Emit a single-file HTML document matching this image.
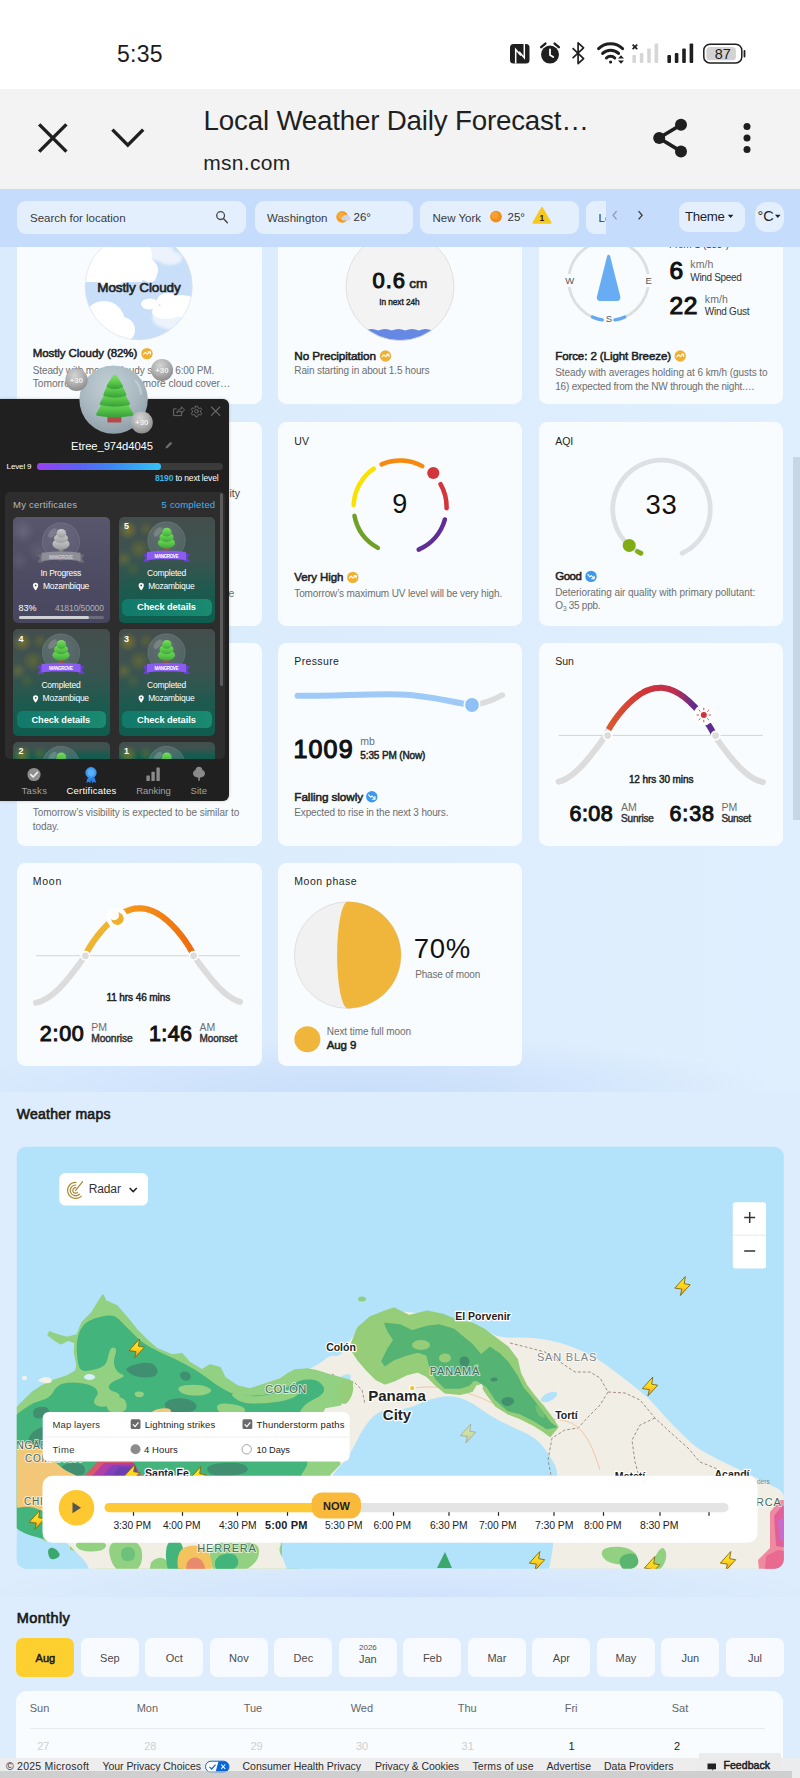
<!DOCTYPE html>
<html lang="en"><head><meta charset="utf-8"><title>Local Weather Daily Forecast</title>
<style>
html,body{margin:0;padding:0}
body{width:800px;height:1778px;position:relative;overflow:hidden;background:#ddedfd;font-family:"Liberation Sans",sans-serif;}
.t{position:absolute;white-space:pre;}
.a{position:absolute;}
.card{position:absolute;background:#f8fcff;border-radius:8.5px;}
svg{position:absolute;overflow:visible}
</style></head><body>
<div class="a" style="left:0;top:246px;width:800px;height:1532px;background:linear-gradient(90deg,#daebfd 0%,#ddedfd 55%,#e0effe 100%)"></div>
<div class="a" style="left:0;top:992px;width:800px;height:100px;overflow:hidden"><div class="a" style="left:0;top:0;width:800px;height:200px;background:radial-gradient(ellipse 52% 28% at 45% 50%,#c9defb 0%,rgba(201,222,251,.6) 45%,rgba(201,222,251,0) 100%)"></div></div>
<div class="a" style="left:0;top:1092px;width:800px;height:686px;background:#ddedfd"></div>
<div class="a" style="left:0;top:1517px;width:800px;height:80px;overflow:hidden"><div class="a" style="left:0;top:0;width:800px;height:160px;background:radial-gradient(ellipse 55% 26% at 50% 50%,rgba(205,224,252,.8) 0%,rgba(205,224,252,.45) 45%,rgba(205,224,252,0) 100%)"></div></div>
<div class="card" style="left:16.8px;top:201px;width:244.8px;height:203px"></div>
<div class="card" style="left:277.5px;top:201px;width:244.8px;height:203px"></div>
<div class="card" style="left:538.5px;top:201px;width:244.8px;height:203px"></div>
<div class="card" style="left:16.8px;top:422.3px;width:244.8px;height:203.7px"></div>
<div class="card" style="left:277.5px;top:422.3px;width:244.8px;height:203.7px"></div>
<div class="card" style="left:538.5px;top:422.3px;width:244.8px;height:203.7px"></div>
<div class="card" style="left:16.8px;top:643px;width:244.8px;height:203px"></div>
<div class="card" style="left:277.5px;top:643px;width:244.8px;height:203px"></div>
<div class="card" style="left:538.5px;top:643px;width:244.8px;height:203px"></div>
<div class="card" style="left:16.8px;top:863px;width:244.8px;height:203.29999999999995px"></div>
<div class="card" style="left:277.5px;top:863px;width:244.8px;height:203.29999999999995px"></div>
<svg style="left:0;top:230px" width="270" height="120" viewBox="0 230 270 120">
<defs><clipPath id="cc1"><circle cx="138.7" cy="286.3" r="53.7"/></clipPath><filter id="bl1"><feGaussianBlur stdDeviation="1.6"/></filter></defs>
<circle cx="138.7" cy="286.3" r="53.7" fill="#c8def9"/>
<g clip-path="url(#cc1)">
<g fill="#f2f7fe" filter="url(#bl1)" opacity=".85"><ellipse cx="158" cy="252" rx="16" ry="9"/><ellipse cx="170" cy="258" rx="12" ry="7"/><ellipse cx="176" cy="318" rx="24" ry="12"/></g>
<g fill="#fff"><circle cx="110" cy="262" r="24"/><circle cx="132" cy="256" r="20"/><circle cx="147" cy="270" r="11"/><rect x="80" y="236" width="62" height="46"/><circle cx="150" cy="276" r="6.5"/>
<circle cx="104" cy="322" r="21"/><circle cx="122" cy="330" r="13"/><circle cx="90" cy="330" r="14"/>
<ellipse cx="168" cy="300" rx="11" ry="7"/><ellipse cx="150" cy="304" rx="9" ry="5.5"/><ellipse cx="182" cy="306" rx="17" ry="11"/><ellipse cx="166" cy="312" rx="14" ry="7"/></g>
</g>
<circle cx="138.7" cy="286.3" r="53.5" fill="none" stroke="#dfe3e8" stroke-width=".7"/>
</svg>
<span class="t" style="left:97.3px;top:280.0px;font-size:13.5px;line-height:16px;font-weight:400;color:#222;-webkit-text-stroke:0.62px #222;letter-spacing:-0.11px;">Mostly Cloudy</span>
<span class="t" style="left:32.8px;top:346.0px;font-size:11.5px;line-height:14px;font-weight:400;color:#1f1f1f;-webkit-text-stroke:0.53px #1f1f1f;letter-spacing:-0.09px;">Mostly Cloudy (82%)</span>
<span class="t" style="left:32.8px;top:365.0px;font-size:10.0px;line-height:12px;font-weight:400;color:#6e6e6e;letter-spacing:-0.13px;">Steady with mostly cloudy sky at 6:00 PM.</span>
<span class="t" style="left:32.8px;top:378.0px;font-size:10.25px;line-height:12px;font-weight:400;color:#6e6e6e;letter-spacing:-0.08px;">Tomorrow expect to see more cloud cover…</span>
<svg style="left:0;top:340px" width="800" height="30" viewBox="0 340 800 30"><circle cx="147" cy="353.6" r="5.7" fill="#f0b133"/><path d="M143.6 354.20000000000005l1.8-1.8 1.8 1.8 2.6-2.2M148.2 351.8h2.2v2.2" fill="none" stroke="#fff" stroke-width="1.1" stroke-linecap="round" stroke-linejoin="round"/><circle cx="385.5" cy="356" r="5.7" fill="#f0b133"/><path d="M382.1 356.6l1.8-1.8 1.8 1.8 2.6-2.2M386.7 354.2h2.2v2.2" fill="none" stroke="#fff" stroke-width="1.1" stroke-linecap="round" stroke-linejoin="round"/><circle cx="680.2" cy="356" r="5.7" fill="#f0b133"/><path d="M676.8000000000001 356.6l1.8-1.8 1.8 1.8 2.6-2.2M681.4000000000001 354.2h2.2v2.2" fill="none" stroke="#fff" stroke-width="1.1" stroke-linecap="round" stroke-linejoin="round"/></svg>
<svg style="left:270px;top:230px" width="260" height="120" viewBox="270 230 260 120">
<defs><clipPath id="cc2"><circle cx="400" cy="286.5" r="54"/></clipPath></defs>
<circle cx="400" cy="286.5" r="54" fill="#f3f3f3"/>
<path clip-path="url(#cc2)" d="M337.750 330.600q6.750 -3.400 13.500 0q6.750 -3.400 13.500 0q6.750 -3.400 13.500 0q6.750 -3.400 13.500 0q6.750 -3.400 13.500 0q6.750 -3.400 13.500 0q6.750 -3.400 13.500 0q6.750 -3.400 13.500 0q6.750 -3.400 13.500 0q6.750 -3.400 13.500 0V345H337z" fill="#6488e4"/>
<circle cx="400" cy="286.5" r="54" fill="none" stroke="#dedede" stroke-width=".9"/>
</svg>
<span class="t" style="left:372.6px;top:268.0px;font-size:22px;line-height:26px;font-weight:400;color:#111;-webkit-text-stroke:1.01px #111;letter-spacing:0.85px;">0.6</span>
<span class="t" style="left:409.2px;top:276.0px;font-size:13.5px;line-height:16px;font-weight:400;color:#222;-webkit-text-stroke:0.62px #222;">cm</span>
<span class="t" style="left:379.3px;top:298.0px;font-size:8.25px;line-height:10px;font-weight:400;color:#222;-webkit-text-stroke:0.38px #222;letter-spacing:-0.06px;">In next 24h</span>
<span class="t" style="left:294.3px;top:349.0px;font-size:11.75px;line-height:14px;font-weight:400;color:#1f1f1f;-webkit-text-stroke:0.54px #1f1f1f;letter-spacing:-0.08px;">No Precipitation</span>
<span class="t" style="left:294.3px;top:365.0px;font-size:10.0px;line-height:12px;font-weight:400;color:#6e6e6e;letter-spacing:-0.12px;">Rain starting in about 1.5 hours</span>
<svg style="left:530px;top:230px" width="270" height="120" viewBox="530 230 270 120">
<circle cx="608.6" cy="280.5" r="39.9" fill="none" stroke="#dcdfe2" stroke-width="2.800"/>
<rect x="562" y="274" width="14" height="13" fill="#f8fcff"/><rect x="641" y="274" width="14" height="13" fill="#f8fcff"/><rect x="600" y="312" width="17" height="13" fill="#f8fcff"/>
<path d="M624.83 316.95A39.9 39.9 0 0 1 614.84 319.91" stroke="#62a9f2" stroke-width="3.2" fill="none" stroke-linecap="round"/><path d="M602.36 319.91A39.9 39.9 0 0 1 592.37 316.95" stroke="#62a9f2" stroke-width="3.2" fill="none" stroke-linecap="round"/>
<path d="M608.600 254.800c.8 0 1.300.6 1.600 1.800l10 39.600c.8 3-.8 4.800-3.600 4.800h-16c-2.800 0-4.400-1.800-3.600-4.800l10-39.600c.3-1.200.8-1.800 1.600-1.800z" fill="#68adf3"/>
</svg>
<span class="t" style="left:565.2px;top:275.0px;font-size:9.5px;line-height:11px;font-weight:400;color:#555;">W</span>
<span class="t" style="left:645.4px;top:275.0px;font-size:9.5px;line-height:11px;font-weight:400;color:#555;">E</span>
<span class="t" style="left:605.8px;top:313.0px;font-size:9.5px;line-height:11px;font-weight:400;color:#555;">S</span>
<span class="t" style="left:669.0px;top:239.0px;font-size:10.0px;line-height:12px;font-weight:400;color:#444;letter-spacing:-0.23px;">From S (183°)</span>
<span class="t" style="left:669.5px;top:256.0px;font-size:24.5px;line-height:29px;font-weight:400;color:#111;-webkit-text-stroke:1.13px #111;">6</span>
<span class="t" style="left:690.3px;top:258.0px;font-size:10.5px;line-height:13px;font-weight:400;color:#6e6e6e;letter-spacing:0.08px;">km/h</span>
<span class="t" style="left:690.3px;top:272.0px;font-size:10.0px;line-height:12px;font-weight:400;color:#333;letter-spacing:-0.34px;">Wind Speed</span>
<span class="t" style="left:669.5px;top:291.0px;font-size:24.5px;line-height:29px;font-weight:400;color:#111;-webkit-text-stroke:1.13px #111;letter-spacing:0.73px;">22</span>
<span class="t" style="left:704.8px;top:293.0px;font-size:10.5px;line-height:13px;font-weight:400;color:#6e6e6e;letter-spacing:0.08px;">km/h</span>
<span class="t" style="left:704.8px;top:306.0px;font-size:10.0px;line-height:12px;font-weight:400;color:#333;letter-spacing:-0.25px;">Wind Gust</span>
<span class="t" style="left:555.2px;top:349.0px;font-size:11.5px;line-height:14px;font-weight:400;color:#1f1f1f;-webkit-text-stroke:0.53px #1f1f1f;letter-spacing:-0.08px;">Force: 2 (Light Breeze)</span>
<span class="t" style="left:555.2px;top:367.0px;font-size:10.0px;line-height:12px;font-weight:400;color:#6e6e6e;letter-spacing:-0.07px;">Steady with averages holding at 6 km/h (gusts to</span>
<span class="t" style="left:555.2px;top:381.0px;font-size:10.0px;line-height:12px;font-weight:400;color:#6e6e6e;letter-spacing:-0.18px;">16) expected from the NW through the night.…</span>
<span class="t" style="left:229.4px;top:487.0px;font-size:10.5px;line-height:13px;font-weight:400;color:#444;">ity</span>
<span class="t" style="left:228.6px;top:587.0px;font-size:10.5px;line-height:13px;font-weight:400;color:#6e6e6e;">e</span>
<span class="t" style="left:32.8px;top:807.0px;font-size:10.0px;line-height:12px;font-weight:400;color:#6e6e6e;letter-spacing:-0.06px;">Tomorrow’s visibility is expected to be similar to</span>
<span class="t" style="left:32.8px;top:821.0px;font-size:10.0px;line-height:12px;font-weight:400;color:#6e6e6e;letter-spacing:-0.08px;">today.</span>
<svg style="left:340px;top:450px" width="120" height="110" viewBox="340 450 120 110"><path d="M377.91 547.86A46.5 46.5 0 0 1 354.45 515.87" stroke="#6fa128" stroke-width="4.5" fill="none" stroke-linecap="round"/><path d="M353.64 504.97A46.5 46.5 0 0 1 373.76 468.68" stroke="#fbe100" stroke-width="4.5" fill="none" stroke-linecap="round"/><path d="M381.56 464.36A46.5 46.5 0 0 1 422.29 466.14" stroke="#f7890f" stroke-width="4.5" fill="none" stroke-linecap="round"/><path d="M440.57 484.10A46.5 46.5 0 0 1 446.58 508.22" stroke="#d2363b" stroke-width="4.5" fill="none" stroke-linecap="round"/><path d="M444.91 519.43A46.5 46.5 0 0 1 418.64 549.64" stroke="#5f2d96" stroke-width="4.5" fill="none" stroke-linecap="round"/><circle cx="433.3" cy="473" r="6.1" fill="#d2363b"/></svg>
<span class="t" style="left:294.3px;top:435.0px;font-size:10.5px;line-height:13px;font-weight:400;color:#1f1f1f;">UV</span>
<span class="t" style="left:392.2px;top:488.0px;font-size:27px;line-height:32px;font-weight:400;color:#111;">9</span>
<span class="t" style="left:294.3px;top:570.0px;font-size:11.5px;line-height:14px;font-weight:400;color:#1f1f1f;-webkit-text-stroke:0.53px #1f1f1f;letter-spacing:-0.10px;">Very High</span>
<span class="t" style="left:294.3px;top:588.0px;font-size:10.0px;line-height:12px;font-weight:400;color:#6e6e6e;letter-spacing:-0.13px;">Tomorrow’s maximum UV level will be very high.</span>
<svg style="left:600px;top:450px" width="130" height="120" viewBox="600 450 130 120">
<path d="M640.88 553.23A48.8 48.8 0 1 1 682.12 553.23" stroke="#dde1e5" stroke-width="4.8" fill="none" stroke-linecap="round"/>
<path d="M640.88 553.23A48.8 48.8 0 0 1 637.47 551.47" stroke="#80ad14" stroke-width="4.8" fill="none" stroke-linecap="round"/>
<circle cx="629.2" cy="545.4" r="6.5" fill="#80ad14"/></svg>
<span class="t" style="left:555.2px;top:435.0px;font-size:10.5px;line-height:13px;font-weight:400;color:#1f1f1f;">AQI</span>
<span class="t" style="left:645.5px;top:488.0px;font-size:27.5px;line-height:33px;font-weight:400;color:#111;letter-spacing:0.81px;">33</span>
<span class="t" style="left:555.2px;top:569.0px;font-size:11.5px;line-height:14px;font-weight:400;color:#1f1f1f;-webkit-text-stroke:0.53px #1f1f1f;letter-spacing:-0.50px;">Good</span>
<span class="t" style="left:555.2px;top:587.0px;font-size:10.0px;line-height:12px;font-weight:400;color:#6e6e6e;letter-spacing:-0.06px;">Deteriorating air quality with primary pollutant:</span>
<span class="t" style="left:555.2px;top:600.0px;font-size:10.0px;line-height:12px;font-weight:400;color:#6e6e6e;letter-spacing:-0.28px;">O<span style="font-size:7px;position:relative;top:1.5px">3</span> 35 ppb.</span>
<svg style="left:0;top:560px" width="800" height="30" viewBox="0 560 800 30"><circle cx="352.8" cy="577.4" r="5.7" fill="#f0b133"/><path d="M349.40000000000003 578.0l1.8-1.8 1.8 1.8 2.6-2.2M354.0 575.6h2.2v2.2" fill="none" stroke="#fff" stroke-width="1.1" stroke-linecap="round" stroke-linejoin="round"/><circle cx="591" cy="576.4" r="5.7" fill="#3b9aee"/><path d="M587.8 574.4l2 2.4 1.6-1.2 2.6 3M591.6 578.8h2.6v-2.6" fill="none" stroke="#fff" stroke-width="1.1" stroke-linecap="round" stroke-linejoin="round"/></svg>
<svg style="left:280px;top:680px" width="240" height="40" viewBox="280 680 240 40">
<path d="M472 705C485 704 495 699 502.4 695" stroke="#dcdcdc" stroke-width="5.4" fill="none" stroke-linecap="round"/>
<path d="M297.6 695.8C340 695.8 370 693.6 400 694.4S450 702 472 705" stroke="#9fcaf8" stroke-width="6" fill="none" stroke-linecap="round"/>
<circle cx="472" cy="705" r="7.7" fill="#90c1f6" stroke="#f8fcff" stroke-width="1.6"/></svg>
<span class="t" style="left:294.3px;top:655.0px;font-size:10.5px;line-height:13px;font-weight:400;color:#1f1f1f;letter-spacing:0.37px;">Pressure</span>
<span class="t" style="left:293.4px;top:734.0px;font-size:25px;line-height:30px;font-weight:400;color:#111;-webkit-text-stroke:1.15px #111;letter-spacing:1.19px;">1009</span>
<span class="t" style="left:360.3px;top:735.0px;font-size:10.5px;line-height:13px;font-weight:400;color:#6e6e6e;">mb</span>
<span class="t" style="left:360.3px;top:750.0px;font-size:10.0px;line-height:12px;font-weight:400;color:#222;-webkit-text-stroke:0.46px #222;letter-spacing:-0.13px;">5:35 PM (Now)</span>
<span class="t" style="left:294.3px;top:790.0px;font-size:11.75px;line-height:14px;font-weight:400;color:#1f1f1f;-webkit-text-stroke:0.54px #1f1f1f;letter-spacing:-0.08px;">Falling slowly</span>
<span class="t" style="left:294.3px;top:807.0px;font-size:10.0px;line-height:12px;font-weight:400;color:#6e6e6e;letter-spacing:-0.15px;">Expected to rise in the next 3 hours.</span>
<svg style="left:0;top:780px" width="800" height="30" viewBox="0 780 800 30"><circle cx="371.8" cy="796.8" r="5.7" fill="#3b9aee"/><path d="M368.6 794.8l2 2.4 1.6-1.2 2.6 3M372.40000000000003 799.1999999999999h2.6v-2.6" fill="none" stroke="#fff" stroke-width="1.1" stroke-linecap="round" stroke-linejoin="round"/></svg>
<svg style="left:540px;top:680px" width="240" height="110" viewBox="540 680 240 110">
<defs><linearGradient id="sg" gradientUnits="userSpaceOnUse" x1="607" y1="0" x2="716" y2="0"><stop offset="0" stop-color="#dc5a2e"/><stop offset=".35" stop-color="#d13438"/><stop offset=".62" stop-color="#c02f50"/><stop offset=".8" stop-color="#5c2d91"/><stop offset="1" stop-color="#5c2d91"/></linearGradient></defs>
<path d="M558.7 735.4H762.9" stroke="#d4d4d4" stroke-width="1"/>
<path d="M558.7 781.7L562.1 780.6L565.5 779.0L568.9 777.0L572.3 774.6L575.7 771.8L579.1 768.6L582.5 765.1L585.9 761.3L589.3 757.3L592.7 753.0L596.1 748.6L599.5 744.1L602.9 739.4L606.3 734.1L609.8 727.5L613.2 722.2L616.6 717.4L620.0 713.1L623.4 709.1L626.8 705.4L630.2 702.1L633.6 699.0L637.0 696.4L640.4 694.1L643.8 692.1L647.2 690.5L650.6 689.3L654.0 688.4L657.4 687.9L660.8 687.8L664.2 688.1L667.6 688.7L671.0 689.8L674.4 691.2L677.8 693.0L681.2 695.1L684.6 697.6L688.0 700.4L691.4 703.6L694.8 707.1L698.2 710.9L701.6 715.1L705.0 719.6L708.4 724.6L711.9 730.3L715.3 736.9L718.7 741.6L722.1 746.2L725.5 750.7L728.9 755.1L732.3 759.2L735.7 763.1L739.1 766.8L742.5 770.1L745.9 773.1L749.3 775.7L752.7 778.0L756.1 779.8L759.5 781.2L762.9 782.1" stroke="#dcdcdc" stroke-width="6" fill="none" stroke-linecap="round"/>
<path d="M608.6 729.5L610.4 726.5L612.1 723.7L613.9 721.1L615.7 718.6L617.4 716.3L619.2 714.0L621.0 711.8L622.7 709.8L624.5 707.8L626.3 705.9L628.0 704.1L629.8 702.4L631.6 700.8L633.3 699.2L635.1 697.8L636.9 696.5L638.6 695.2L640.4 694.0L642.2 693.0L643.9 692.0L645.7 691.1L647.5 690.4L649.2 689.7L651.0 689.1L652.8 688.7L654.5 688.3L656.3 688.0L658.1 687.9L659.8 687.8L661.6 687.8L663.4 688.0L665.1 688.2L666.9 688.6L668.7 689.0L670.4 689.6L672.2 690.2L674.0 691.0L675.7 691.8L677.5 692.8L679.3 693.8L681.0 695.0L682.8 696.2L684.6 697.5L686.3 699.0L688.1 700.5L689.9 702.1L691.6 703.8L693.4 705.6L695.2 707.4L696.9 709.4L698.7 711.5L700.5 713.6L702.2 715.8L704.0 718.2L705.8 720.6L707.5 723.2L709.3 726.0L711.1 728.9L712.8 732.2L714.6 736.0" stroke="url(#sg)" stroke-width="6" fill="none"/>
<circle cx="607.6" cy="735.6" r="4.2" fill="#dcdcdc" stroke="#fff" stroke-width="1.6"/><circle cx="715.6" cy="735.6" r="4.2" fill="#dcdcdc" stroke="#fff" stroke-width="1.6"/>
<circle cx="703.8" cy="715" r="10.4" fill="#fff"/><circle cx="703.8" cy="715" r="3" fill="#d13438"/>
<g stroke="#d13438" stroke-width=".9" stroke-linecap="round"><path d="M709.0 715.0L710.6 715.0"/><path d="M707.5 718.7L708.6 719.8"/><path d="M703.8 720.2L703.8 721.8"/><path d="M700.1 718.7L699.0 719.8"/><path d="M698.6 715.0L697.0 715.0"/><path d="M700.1 711.3L699.0 710.2"/><path d="M703.8 709.8L703.8 708.2"/><path d="M707.5 711.3L708.6 710.2"/></g>
</svg>
<span class="t" style="left:555.2px;top:655.0px;font-size:10.5px;line-height:13px;font-weight:400;color:#1f1f1f;">Sun</span>
<span class="t" style="left:628.9px;top:774.0px;font-size:10.0px;line-height:12px;font-weight:400;color:#222;-webkit-text-stroke:0.46px #222;letter-spacing:-0.08px;">12 hrs 30 mins</span>
<span class="t" style="left:569.5px;top:801.0px;font-size:21.5px;line-height:26px;font-weight:400;color:#111;-webkit-text-stroke:0.99px #111;letter-spacing:0.45px;">6:08</span>
<span class="t" style="left:621.0px;top:801.0px;font-size:10.5px;line-height:13px;font-weight:400;color:#6e6e6e;">AM</span>
<span class="t" style="left:621.0px;top:813.0px;font-size:10.0px;line-height:12px;font-weight:400;color:#333;-webkit-text-stroke:0.46px #333;letter-spacing:-0.17px;">Sunrise</span>
<span class="t" style="left:669.4px;top:801.0px;font-size:21.5px;line-height:26px;font-weight:400;color:#111;-webkit-text-stroke:0.99px #111;letter-spacing:0.91px;">6:38</span>
<span class="t" style="left:721.4px;top:801.0px;font-size:10.5px;line-height:13px;font-weight:400;color:#6e6e6e;">PM</span>
<span class="t" style="left:721.4px;top:813.0px;font-size:10.0px;line-height:12px;font-weight:400;color:#333;-webkit-text-stroke:0.46px #333;letter-spacing:-0.29px;">Sunset</span>
<svg style="left:20px;top:900px" width="240" height="110" viewBox="20 900 240 110">
<defs><linearGradient id="mg" gradientUnits="userSpaceOnUse" x1="116" y1="0" x2="194" y2="0"><stop offset="0" stop-color="#f6a11c"/><stop offset="1" stop-color="#f0690c"/></linearGradient></defs>
<path d="M36 955.7H240" stroke="#d4d4d4" stroke-width="1"/>
<path d="M36.0 1002.7L39.4 1001.8L42.8 1000.5L46.2 998.7L49.6 996.6L53.0 994.0L56.4 991.1L59.8 987.8L63.2 984.2L66.6 980.3L70.0 976.2L73.4 971.9L76.8 967.4L80.2 962.8L83.6 958.2L87.0 951.9L90.4 946.0L93.8 940.9L97.2 936.3L100.6 932.1L104.0 928.2L107.4 924.7L110.8 921.5L114.2 918.6L117.6 916.0L121.0 913.8L124.4 912.0L127.8 910.5L131.2 909.4L134.6 908.7L138.0 908.3L141.4 908.4L144.8 908.8L148.2 909.5L151.6 910.7L155.0 912.2L158.4 914.1L161.8 916.3L165.2 918.9L168.6 921.8L172.0 925.1L175.4 928.7L178.8 932.6L182.2 936.8L185.6 941.5L189.0 946.6L192.4 952.7L195.8 958.7L199.2 963.4L202.6 967.9L206.0 972.4L209.4 976.7L212.8 980.8L216.2 984.6L219.6 988.2L223.0 991.4L226.4 994.3L229.8 996.8L233.2 999.0L236.6 1000.7L240.0 1001.9" stroke="#dcdcdc" stroke-width="6" fill="none" stroke-linecap="round"/>
<path d="M86.4 953.1L86.9 952.1L87.4 951.1L87.9 950.1L88.4 949.2L89.0 948.4L89.5 947.5L90.0 946.7L90.5 945.9L91.0 945.1L91.5 944.3L92.0 943.5L92.5 942.8L93.0 942.0L93.5 941.3L94.0 940.6L94.6 939.9L95.1 939.2L95.6 938.5L96.1 937.8L96.6 937.1L97.1 936.4L97.6 935.8L98.1 935.1L98.6 934.5L99.2 933.9L99.7 933.2L100.2 932.6L100.7 932.0L101.2 931.4L101.7 930.8L102.2 930.2L102.7 929.6L103.2 929.1L103.7 928.5L104.2 928.0L104.8 927.4L105.3 926.9L105.8 926.3L106.3 925.8L106.8 925.3L107.3 924.8L107.8 924.3L108.3 923.8L108.8 923.3L109.3 922.8L109.9 922.3L110.4 921.9L110.9 921.4L111.4 920.9L111.9 920.5L112.4 920.1L112.9 919.6L113.4 919.2L113.9 918.8L114.5 918.4L115.0 918.0L115.5 917.6L116.0 917.2L116.5 916.8L117.0 916.5" stroke="#f0b52e" stroke-width="6" fill="none"/>
<path d="M116.0 917.2L117.3 916.3L118.6 915.4L119.8 914.6L121.1 913.8L122.4 913.1L123.7 912.4L124.9 911.8L126.2 911.2L127.5 910.7L128.8 910.2L130.0 909.8L131.3 909.4L132.6 909.1L133.9 908.8L135.2 908.6L136.4 908.5L137.7 908.4L139.0 908.3L140.3 908.3L141.5 908.4L142.8 908.5L144.1 908.6L145.4 908.9L146.6 909.1L147.9 909.5L149.2 909.8L150.5 910.3L151.7 910.7L153.0 911.3L154.3 911.9L155.6 912.5L156.9 913.2L158.1 913.9L159.4 914.7L160.7 915.5L162.0 916.4L163.2 917.4L164.5 918.4L165.8 919.4L167.1 920.5L168.3 921.6L169.6 922.8L170.9 924.0L172.2 925.3L173.4 926.6L174.7 927.9L176.0 929.3L177.3 930.8L178.6 932.3L179.8 933.8L181.1 935.4L182.4 937.1L183.7 938.8L184.9 940.6L186.2 942.4L187.5 944.3L188.8 946.3L190.0 948.4L191.3 950.6L192.6 953.1" stroke="url(#mg)" stroke-width="6" fill="none"/>
<circle cx="85.4" cy="955.8" r="4.2" fill="#dcdcdc" stroke="#fff" stroke-width="1.6"/><circle cx="193.6" cy="955.8" r="4.2" fill="#dcdcdc" stroke="#fff" stroke-width="1.6"/>
<defs><mask id="mm"><rect x="100" y="900" width="40" height="40" fill="#fff"/><circle cx="114" cy="915.1" r="5.100" fill="#000"/></mask></defs>
<circle cx="117" cy="918" r="10.500" fill="#fff"/><circle cx="117.400" cy="918.600" r="6.300" fill="#f0b028" mask="url(#mm)"/>
</svg>
<span class="t" style="left:32.7px;top:875.0px;font-size:10.5px;line-height:13px;font-weight:400;color:#1f1f1f;letter-spacing:0.78px;">Moon</span>
<span class="t" style="left:106.4px;top:992.0px;font-size:10.0px;line-height:12px;font-weight:400;color:#222;-webkit-text-stroke:0.46px #222;letter-spacing:-0.08px;">11 hrs 46 mins</span>
<span class="t" style="left:39.8px;top:1021.0px;font-size:21.5px;line-height:26px;font-weight:400;color:#111;-webkit-text-stroke:0.99px #111;letter-spacing:0.71px;">2:00</span>
<span class="t" style="left:91.2px;top:1021.0px;font-size:10.5px;line-height:13px;font-weight:400;color:#6e6e6e;">PM</span>
<span class="t" style="left:91.2px;top:1033.0px;font-size:10.25px;line-height:12px;font-weight:400;color:#333;-webkit-text-stroke:0.47px #333;letter-spacing:-0.09px;">Moonrise</span>
<span class="t" style="left:149.0px;top:1021.0px;font-size:21.5px;line-height:26px;font-weight:400;color:#111;-webkit-text-stroke:0.99px #111;letter-spacing:0.38px;">1:46</span>
<span class="t" style="left:199.5px;top:1021.0px;font-size:10.5px;line-height:13px;font-weight:400;color:#6e6e6e;">AM</span>
<span class="t" style="left:199.5px;top:1033.0px;font-size:10.0px;line-height:12px;font-weight:400;color:#333;-webkit-text-stroke:0.46px #333;letter-spacing:-0.10px;">Moonset</span>
<svg style="left:285px;top:895px" width="125" height="165" viewBox="285 895 125 165">
<circle cx="347.7" cy="955.1" r="53.3" fill="#f1f1f1" stroke="#dddddd" stroke-width=".9"/>
<path d="M347.700 901.800A53.300 53.300 0 0 1 347.700 1008.400A10.600 53.300 0 0 1 347.700 901.800z" fill="#f0b63c"/>
<circle cx="307.4" cy="1039.3" r="13" fill="#f0b63c"/></svg>
<span class="t" style="left:294.3px;top:875.0px;font-size:10.5px;line-height:13px;font-weight:400;color:#1f1f1f;letter-spacing:0.51px;">Moon phase</span>
<span class="t" style="left:413.8px;top:932.0px;font-size:27.5px;line-height:33px;font-weight:400;color:#111;letter-spacing:0.73px;">70%</span>
<span class="t" style="left:415.2px;top:969.0px;font-size:10.0px;line-height:12px;font-weight:400;color:#6e6e6e;letter-spacing:-0.18px;">Phase of moon</span>
<span class="t" style="left:326.8px;top:1026.0px;font-size:10.0px;line-height:12px;font-weight:400;color:#6e6e6e;letter-spacing:-0.07px;">Next time full moon</span>
<span class="t" style="left:326.8px;top:1038.0px;font-size:11.5px;line-height:14px;font-weight:400;color:#1f1f1f;-webkit-text-stroke:0.53px #1f1f1f;letter-spacing:-0.12px;">Aug 9</span>
<div class="a" style="left:792.5px;top:457px;width:7.5px;height:363px;background:#c7d5e5"></div>
<div class="a" style="left:0;top:188.5px;width:800px;height:58px;background:#c6dcfc"></div>
<div class="a" style="left:17px;top:200.5px;width:229px;height:33px;border-radius:9px;background:#e4effe"></div>
<div class="a" style="left:254.5px;top:200.5px;width:158.5px;height:33px;border-radius:9px;background:#e4effe"></div>
<div class="a" style="left:420px;top:200.5px;width:158.5px;height:33px;border-radius:9px;background:#e4effe"></div>
<div class="a" style="left:585.5px;top:200.5px;width:20.5px;height:33px;border-radius:9px 0 0 9px;background:#e4effe"></div>
<div class="a" style="left:678.5px;top:202px;width:66px;height:29.5px;border-radius:9px;background:#e4effe"></div>
<div class="a" style="left:754.5px;top:202px;width:29.5px;height:29.5px;border-radius:12px;background:#e4effe"></div>
<span class="t" style="left:30.0px;top:211.0px;font-size:11.5px;line-height:14px;font-weight:400;color:#3a3a3a;letter-spacing:-0.02px;">Search for location</span>
<span class="t" style="left:267.0px;top:211.0px;font-size:11.5px;line-height:14px;font-weight:400;color:#3a3a3a;letter-spacing:0.02px;">Washington</span>
<span class="t" style="left:353.5px;top:210.0px;font-size:11.5px;line-height:14px;font-weight:400;color:#333;">26°</span>
<span class="t" style="left:432.5px;top:211.0px;font-size:11.5px;line-height:14px;font-weight:400;color:#3a3a3a;letter-spacing:-0.01px;">New York</span>
<span class="t" style="left:507.5px;top:210.0px;font-size:11.5px;line-height:14px;font-weight:400;color:#333;">25°</span>
<div class="a" style="left:585.5px;top:200.5px;width:20.5px;height:33px;overflow:hidden"><span class="t" style="left:13px;top:10px;font-size:11.5px;line-height:14px;color:#3a3a3a">London</span></div>
<span class="t" style="left:685.0px;top:209.0px;font-size:13.25px;line-height:16px;font-weight:400;color:#1f1f1f;letter-spacing:-0.35px;">Theme</span>
<span class="t" style="left:757.5px;top:208.0px;font-size:14.5px;line-height:17px;font-weight:400;color:#1f1f1f;">°C</span>
<svg style="left:0;top:189px" width="800" height="58" viewBox="0 189 800 58">
<circle cx="220.6" cy="215.6" r="3.9" fill="none" stroke="#444" stroke-width="1.3"/><path d="M223.4 218.6l4 4.2" stroke="#444" stroke-width="1.4" stroke-linecap="round"/>
<circle cx="342.2" cy="216.8" r="5.9" fill="#f39a1c"/><circle cx="341.2" cy="215.600" r="3.6" fill="#f8b040" opacity=".7"/><path d="M343.2 220.4a1.900 1.900 0 0 1 .2-3.800 2.600 2.600 0 0 1 4.800-.3 2 2 0 0 1 .4 4.100z" fill="#c9d6ec"/>
<circle cx="496" cy="216.6" r="5.9" fill="#f28c1c"/><circle cx="495" cy="215.400" r="3.6" fill="#f7a83a" opacity=".7"/>
<path d="M542 207.6l8.8 15.4h-17.6z" fill="#f7c81e" stroke="#f7c81e" stroke-width="1.6" stroke-linejoin="round"/>
<path d="M616.600 211.200l-3.500 4.100 3.500 4.100" fill="none" stroke="#8d97a8" stroke-width="1.200"/>
<path d="M638.600 211.200l3.500 4.100-3.500 4.100" fill="none" stroke="#3a3a3a" stroke-width="1.300"/>
<path d="M727.8 214.8h5.6l-2.8 3.2z" fill="#1f1f1f"/><path d="M775 214.8h5.6l-2.8 3.2z" fill="#1f1f1f"/>
</svg>
<span class="t" style="left:539.6px;top:213.0px;font-size:8.5px;line-height:10px;font-weight:700;color:#222;">1</span>
<div class="a" style="left:0;top:89px;width:800px;height:100px;background:#f3f3f3"></div>
<svg style="left:0;top:89px" width="800" height="100" viewBox="0 89 800 100">
<path d="M39.2 124.4l27.2 27.2M66.4 124.4l-27.2 27.2" stroke="#1f1f1f" stroke-width="3.4" fill="none"/>
<path d="M112.4 129.6l15.4 15.6 15.4-15.6" stroke="#1f1f1f" stroke-width="3.4" fill="none"/>
<path d="M681 124.8L659 138l22 13.4" stroke="#1f1f1f" stroke-width="3.6" fill="none"/>
<circle cx="681" cy="124.8" r="6" fill="#1f1f1f"/><circle cx="659.2" cy="138" r="6" fill="#1f1f1f"/><circle cx="681" cy="151.4" r="6" fill="#1f1f1f"/>
<circle cx="747" cy="126.6" r="3.5" fill="#1f1f1f"/><circle cx="747" cy="138" r="3.5" fill="#1f1f1f"/><circle cx="747" cy="149.4" r="3.5" fill="#1f1f1f"/>
</svg>
<span class="t" style="left:203.6px;top:104.0px;font-size:27.75px;line-height:33px;font-weight:400;color:#1f1f1f;letter-spacing:-0.21px;">Local Weather Daily Forecast…</span>
<span class="t" style="left:203.2px;top:150.0px;font-size:21px;line-height:25px;font-weight:400;color:#1f1f1f;letter-spacing:0.30px;">msn.com</span>
<div class="a" style="left:0;top:0;width:800px;height:89px;background:#fff"></div>
<span class="t" style="left:117.0px;top:40.0px;font-size:23px;line-height:28px;font-weight:400;color:#1c1c1c;letter-spacing:0.24px;">5:35</span>
<svg style="left:500px;top:30px" width="260" height="50" viewBox="500 30 260 50">
<rect x="510" y="44" width="19.5" height="19.5" rx="3.5" fill="#1f1f1f"/>
<path d="M515.7 63.5V49.6l5.2 6M524.3 44V57.8l-5.2-6" fill="none" stroke="#fff" stroke-width="1.5" stroke-linejoin="miter"/>
<circle cx="550" cy="54.6" r="9" fill="#1f1f1f"/>
<path d="M541.2 47.2l4.2-3.6M558.8 47.2l-4.2-3.6" stroke="#1f1f1f" stroke-width="2.4" stroke-linecap="round"/>
<path d="M550 49.5v5.6l3.2 2" stroke="#fff" stroke-width="1.8" fill="none" stroke-linecap="round"/>
<path d="M572.6 48.2l11 10.4-5.5 5v-20.8l5.5 5-11 10.4" fill="none" stroke="#1f1f1f" stroke-width="1.7" stroke-linejoin="round"/>
<path d="M598.6 48.6a17.5 17.5 0 0 1 24 0" fill="none" stroke="#1f1f1f" stroke-width="3" stroke-linecap="round"/>
<path d="M602.6 53.4a11.6 11.6 0 0 1 16 0" fill="none" stroke="#1f1f1f" stroke-width="3" stroke-linecap="round"/>
<path d="M606.4 58a6 6 0 0 1 8.4 0" fill="none" stroke="#1f1f1f" stroke-width="3" stroke-linecap="round"/>
<circle cx="610.6" cy="62" r="1.6" fill="#1f1f1f"/>
<path d="M618 58.6h6l-3-3.4zM618 60.4h6l-3 3.4z" fill="#1f1f1f"/>
<path d="M632.6 44.6l4.6 4.6M637.2 44.6l-4.6 4.6" stroke="#1f1f1f" stroke-width="1.7"/>
<g fill="#d6d6d6"><rect x="632.4" y="55" width="3.6" height="8" rx="1"/><rect x="639.8" y="53" width="3.6" height="10" rx="1"/><rect x="647.2" y="48.5" width="3.6" height="14.5" rx="1"/><rect x="654.6" y="43.5" width="3.6" height="19.5" rx="1"/></g>
<g fill="#1f1f1f"><rect x="667.4" y="55" width="3.6" height="8" rx="1"/><rect x="674.8" y="53" width="3.6" height="10" rx="1"/><rect x="682.2" y="48.5" width="3.6" height="14.5" rx="1"/><rect x="689.6" y="43.5" width="3.6" height="19.5" rx="1"/></g>
<rect x="703.8" y="44.3" width="38" height="18.6" rx="6" fill="#fff" stroke="#1f1f1f" stroke-width="1.5"/>
<rect x="706.4" y="46.9" width="29.5" height="13.4" rx="3.5" fill="#d2d2d2"/>
<rect x="743.6" y="50" width="1.8" height="7.4" rx="0.9" fill="#1f1f1f"/>
</svg>
<span class="t" style="left:714.7px;top:46.0px;font-size:14.5px;line-height:17px;font-weight:400;color:#1c1c1c;">87</span>
<div class="a" style="left:0;top:398.5px;width:228.5px;height:402.5px;background:#202020;border-radius:0 6px 6px 0;box-shadow:0 0 3px rgba(0,0,0,.25)"></div>
<div class="a" style="left:4.5px;top:492px;width:220px;height:267px;background:#2d2d2d;border-radius:5px"></div>
<div class="a" style="left:220.4px;top:493px;width:3px;height:193px;background:#5c5c5c;border-radius:1.5px"></div>
<div class="a" style="left:13px;top:516.6px;width:96.8px;height:106.4px;background:radial-gradient(circle 12px at 10px 14px,rgba(120,119,140,.5),rgba(120,119,140,0)),radial-gradient(circle 12px at 26px 34px,rgba(112,111,132,.4),rgba(112,111,132,0)),radial-gradient(circle 10px at 6px 44px,rgba(112,111,132,.35),rgba(112,111,132,0)),linear-gradient(180deg,#57566c 0%,#4d4c63 55%,#47465f 100%);border-radius:5px;overflow:hidden"></div>
<div class="a" style="left:118.5px;top:516.6px;width:96.8px;height:106.4px;background:radial-gradient(circle 10px at 9px 13px,rgba(128,122,44,.8),rgba(128,122,44,0)),radial-gradient(circle 11px at 20px 32px,rgba(112,114,46,.62),rgba(112,114,46,0)),radial-gradient(circle 9px at 5px 42px,rgba(120,118,50,.55),rgba(120,118,50,0)),radial-gradient(circle 8px at 27px 12px,rgba(108,110,48,.5),rgba(108,110,48,0)),radial-gradient(circle 8px at 14px 52px,rgba(100,108,52,.4),rgba(100,108,52,0)),linear-gradient(180deg,#434e4c 0%,#3d5350 38%,#1d5a4e 70%,#0d5d4f 100%);border-radius:5px;overflow:hidden"></div>
<div class="a" style="left:13px;top:629px;width:96.8px;height:107px;background:radial-gradient(circle 10px at 9px 13px,rgba(128,122,44,.8),rgba(128,122,44,0)),radial-gradient(circle 11px at 20px 32px,rgba(112,114,46,.62),rgba(112,114,46,0)),radial-gradient(circle 9px at 5px 42px,rgba(120,118,50,.55),rgba(120,118,50,0)),radial-gradient(circle 8px at 27px 12px,rgba(108,110,48,.5),rgba(108,110,48,0)),radial-gradient(circle 8px at 14px 52px,rgba(100,108,52,.4),rgba(100,108,52,0)),linear-gradient(180deg,#434e4c 0%,#3d5350 38%,#1d5a4e 70%,#0d5d4f 100%);border-radius:5px;overflow:hidden"></div>
<div class="a" style="left:118.5px;top:629px;width:96.8px;height:107px;background:radial-gradient(circle 10px at 9px 13px,rgba(128,122,44,.8),rgba(128,122,44,0)),radial-gradient(circle 11px at 20px 32px,rgba(112,114,46,.62),rgba(112,114,46,0)),radial-gradient(circle 9px at 5px 42px,rgba(120,118,50,.55),rgba(120,118,50,0)),radial-gradient(circle 8px at 27px 12px,rgba(108,110,48,.5),rgba(108,110,48,0)),radial-gradient(circle 8px at 14px 52px,rgba(100,108,52,.4),rgba(100,108,52,0)),linear-gradient(180deg,#434e4c 0%,#3d5350 38%,#1d5a4e 70%,#0d5d4f 100%);border-radius:5px;overflow:hidden"></div>
<div class="a" style="left:13px;top:741.5px;width:96.8px;height:17.2px;background:radial-gradient(circle 10px at 9px 13px,rgba(128,122,44,.8),rgba(128,122,44,0)),radial-gradient(circle 11px at 20px 32px,rgba(112,114,46,.62),rgba(112,114,46,0)),radial-gradient(circle 9px at 5px 42px,rgba(120,118,50,.55),rgba(120,118,50,0)),radial-gradient(circle 8px at 27px 12px,rgba(108,110,48,.5),rgba(108,110,48,0)),radial-gradient(circle 8px at 14px 52px,rgba(100,108,52,.4),rgba(100,108,52,0)),linear-gradient(180deg,#434e4c 0%,#3d5350 38%,#1d5a4e 70%,#0d5d4f 100%);border-radius:5px 5px 0 0;overflow:hidden"></div>
<div class="a" style="left:118.5px;top:741.5px;width:96.8px;height:17.2px;background:radial-gradient(circle 10px at 9px 13px,rgba(128,122,44,.8),rgba(128,122,44,0)),radial-gradient(circle 11px at 20px 32px,rgba(112,114,46,.62),rgba(112,114,46,0)),radial-gradient(circle 9px at 5px 42px,rgba(120,118,50,.55),rgba(120,118,50,0)),radial-gradient(circle 8px at 27px 12px,rgba(108,110,48,.5),rgba(108,110,48,0)),radial-gradient(circle 8px at 14px 52px,rgba(100,108,52,.4),rgba(100,108,52,0)),linear-gradient(180deg,#434e4c 0%,#3d5350 38%,#1d5a4e 70%,#0d5d4f 100%);border-radius:5px 5px 0 0;overflow:hidden"></div>
<div class="a" style="left:37px;top:462.8px;width:185.500px;height:7.2px;border-radius:3.600px;background:#3b3b3b"></div>
<div class="a" style="left:37px;top:462.8px;width:123.5px;height:7.2px;border-radius:3.6px;background:linear-gradient(90deg,#9a3ff2 0%,#5a62f5 35%,#3a8af7 62%,#33c3f4 100%)"></div>
<div class="a" style="left:18.6px;top:616px;width:85.6px;height:3.4px;border-radius:1.700px;background:#6c6b7c"></div>
<div class="a" style="left:18.6px;top:616px;width:70px;height:3.4px;border-radius:1.7px;background:#cfcfd6"></div>
<div class="a" style="left:122px;top:599px;width:89.5px;height:17px;border-radius:5.500px;background:linear-gradient(90deg,#12796b,#1a8a70)"></div>
<div class="a" style="left:16.5px;top:711.4px;width:89.5px;height:17px;border-radius:5.500px;background:linear-gradient(90deg,#12796b,#1a8a70)"></div>
<div class="a" style="left:122px;top:711.4px;width:89.5px;height:17px;border-radius:5.500px;background:linear-gradient(90deg,#12796b,#1a8a70)"></div>
<svg style="left:0;top:350px" width="240" height="460" viewBox="0 350 240 460">
<defs>
<radialGradient id="gb" cx=".45" cy=".3" r=".8"><stop offset="0" stop-color="#c2cfd5"/><stop offset=".55" stop-color="#a9b8c0"/><stop offset="1" stop-color="#8696a0"/></radialGradient>
<linearGradient id="tgg" x1="0" y1="0" x2="0" y2="1"><stop offset="0" stop-color="#cfcfcf"/><stop offset="1" stop-color="#9d9d9d"/></linearGradient>
<linearGradient id="tg" x1="0" y1="0" x2="0" y2="1"><stop offset="0" stop-color="#7bdc62"/><stop offset=".6" stop-color="#55c447"/><stop offset="1" stop-color="#3ea53c"/></linearGradient>
<radialGradient id="gs" cx=".42" cy=".35" r=".75"><stop offset="0" stop-color="#93a0a6" stop-opacity=".38"/><stop offset="1" stop-color="#66767c" stop-opacity=".42"/></radialGradient>
<radialGradient id="gp" cx=".42" cy=".35" r=".75"><stop offset="0" stop-color="#85849a" stop-opacity=".42"/><stop offset="1" stop-color="#65647a" stop-opacity=".46"/></radialGradient>
<radialGradient id="sph" cx=".42" cy=".3" r=".8"><stop offset="0" stop-color="#d4d4d4"/><stop offset=".5" stop-color="#b0b0b0"/><stop offset="1" stop-color="#808080"/></radialGradient>
<clipPath id="inner"><rect x="4.5" y="492" width="220" height="266.800"/></clipPath>
</defs>
<circle cx="113.6" cy="399.6" r="34.2" fill="url(#gb)"/><rect x="107.4" y="416.4" width="14" height="6.2" rx="1.2" fill="#b24a4c"/><path d="M105.8 400.2L123.8 400.2L132.0 414.2Q114.8 417.6 97.6 414.2z" fill="url(#tg)" stroke="url(#tg)" stroke-width="3" stroke-linejoin="round"/><path d="M107.8 391.4L121.8 391.4L128.4 403.6Q114.8 407.0 101.2 403.6z" fill="url(#tg)" stroke="url(#tg)" stroke-width="3" stroke-linejoin="round"/><path d="M109.8 383.2L119.8 383.2L124.8 394.6Q114.8 398.0 104.8 394.6z" fill="url(#tg)" stroke="url(#tg)" stroke-width="3" stroke-linejoin="round"/><path d="M114.0 376.6L115.6 376.6L121.4 386.0Q114.8 389.4 108.2 386.0z" fill="url(#tg)" stroke="url(#tg)" stroke-width="3" stroke-linejoin="round"/><path d="M135.5 381q5 5 5.500 13" fill="none" stroke="#fff" stroke-width="2" stroke-linecap="round" opacity=".28"/><circle cx="76.5" cy="379.8" r="11.2" fill="url(#sph)"/><circle cx="162" cy="370" r="11" fill="url(#sph)"/><circle cx="141.8" cy="422.5" r="11" fill="url(#sph)"/><g fill="none" stroke="#6a6a6a" stroke-width="1" stroke-linejoin="round" stroke-linecap="round"><path d="M176.200 408.800h-2.600v6.800h8v-2.400M177 412.600c.4-2.600 2.200-3.800 4.400-3.800v-2l3.200 3.200-3.200 3.200v-2c-1.800 0-3.200.2-4.400 1.400z"/><circle cx="196.5" cy="411.200" r="1.800"/><path d="M195.500 406.200h2l.4 1.500 1.300.7 1.500-.5 1 1.700-1.100 1.100v1.500l1.100 1.100-1 1.700-1.500-.5-1.300.7-.4 1.500h-2l-.4-1.500-1.300-.7-1.500.5-1-1.700 1.100-1.100v-1.500l-1.100-1.100 1-1.700 1.500.5 1.300-.7z"/><path d="M211.400 407l8.400 8.400M219.800 407l-8.400 8.400" stroke-width="1.100"/></g><path d="M165.400 448.600l.6-2.200 4.600-4.600 1.600 1.600-4.600 4.600z" fill="#6f6f6f"/><g clip-path="url(#inner)"><circle cx="61" cy="541.5" r="19" fill="url(#gp)"/><circle cx="61" cy="541.5" r="18.6" fill="none" stroke="#fff" stroke-opacity=".10" stroke-width=".8"/><rect x="58.8" y="548.0" width="4.400" height="3.600" rx=".8" fill="#8a8a8a"/><ellipse cx="61" cy="544.1" rx="8.600" ry="5.400" fill="url(#tgg)"/><ellipse cx="61" cy="538.3" rx="7" ry="4.800" fill="url(#tgg)"/><ellipse cx="61.3" cy="533.3" rx="4.800" ry="4.400" fill="url(#tgg)"/><ellipse cx="52.5" cy="533.0" rx="3.0" ry="5.7" fill="#fff" opacity=".16" transform="rotate(40 52.5 533.0)"/><path d="M37.5 554.5h6v8h-6l2.6-4z" fill="#6d6d78"/><path d="M84.5 554.5h-6v8h6l-2.600-4z" fill="#6d6d78"/><path d="M41.5 552.7q19.5 -2.200 39 0v8.200q-19.5 -2.200 -39 0z" fill="#8e8e98"/><text x="61" y="558.9" font-family="Liberation Sans,sans-serif" font-size="4.6" font-weight="700" fill="#c9c9cf" text-anchor="middle" textLength="24">MANGROVE</text><circle cx="166.5" cy="540.4" r="19" fill="url(#gs)"/><circle cx="166.5" cy="540.4" r="18.6" fill="none" stroke="#fff" stroke-opacity=".10" stroke-width=".8"/><rect x="164.3" y="546.9" width="4.400" height="3.600" rx=".8" fill="#b04a45"/><ellipse cx="166.5" cy="543.0" rx="8.600" ry="5.400" fill="url(#tg)"/><ellipse cx="166.5" cy="537.2" rx="7" ry="4.800" fill="url(#tg)"/><ellipse cx="166.8" cy="532.2" rx="4.800" ry="4.400" fill="url(#tg)"/><ellipse cx="157.9" cy="531.9" rx="3.0" ry="5.7" fill="#fff" opacity=".16" transform="rotate(40 157.9 531.9)"/><path d="M143.0 553.6999999999999h6v8h-6l2.6-4z" fill="#6a3fd0"/><path d="M190.0 553.6999999999999h-6v8h6l-2.600-4z" fill="#6a3fd0"/><path d="M147.0 551.9q19.5 -2.200 39 0v8.200q-19.5 -2.200 -39 0z" fill="#8a5cf2"/><text x="166.5" y="558.0999999999999" font-family="Liberation Sans,sans-serif" font-size="4.6" font-weight="700" fill="#fff" text-anchor="middle" textLength="24">MANGROVE</text><circle cx="61" cy="652.6" r="19" fill="url(#gs)"/><circle cx="61" cy="652.6" r="18.6" fill="none" stroke="#fff" stroke-opacity=".10" stroke-width=".8"/><rect x="58.8" y="659.1" width="4.400" height="3.600" rx=".8" fill="#b04a45"/><ellipse cx="61" cy="655.2" rx="8.600" ry="5.400" fill="url(#tg)"/><ellipse cx="61" cy="649.4" rx="7" ry="4.800" fill="url(#tg)"/><ellipse cx="61.3" cy="644.4" rx="4.800" ry="4.400" fill="url(#tg)"/><ellipse cx="52.5" cy="644.1" rx="3.0" ry="5.7" fill="#fff" opacity=".16" transform="rotate(40 52.5 644.1)"/><path d="M37.5 665.9h6v8h-6l2.6-4z" fill="#6a3fd0"/><path d="M84.5 665.9h-6v8h6l-2.600-4z" fill="#6a3fd0"/><path d="M41.5 664.1q19.5 -2.200 39 0v8.200q-19.5 -2.200 -39 0z" fill="#8a5cf2"/><text x="61" y="670.3" font-family="Liberation Sans,sans-serif" font-size="4.6" font-weight="700" fill="#fff" text-anchor="middle" textLength="24">MANGROVE</text><circle cx="166.5" cy="652.6" r="19" fill="url(#gs)"/><circle cx="166.5" cy="652.6" r="18.6" fill="none" stroke="#fff" stroke-opacity=".10" stroke-width=".8"/><rect x="164.3" y="659.1" width="4.400" height="3.600" rx=".8" fill="#b04a45"/><ellipse cx="166.5" cy="655.2" rx="8.600" ry="5.400" fill="url(#tg)"/><ellipse cx="166.5" cy="649.4" rx="7" ry="4.800" fill="url(#tg)"/><ellipse cx="166.8" cy="644.4" rx="4.800" ry="4.400" fill="url(#tg)"/><ellipse cx="157.9" cy="644.1" rx="3.0" ry="5.7" fill="#fff" opacity=".16" transform="rotate(40 157.9 644.1)"/><path d="M143.0 665.9h6v8h-6l2.6-4z" fill="#6a3fd0"/><path d="M190.0 665.9h-6v8h6l-2.600-4z" fill="#6a3fd0"/><path d="M147.0 664.1q19.5 -2.200 39 0v8.200q-19.5 -2.200 -39 0z" fill="#8a5cf2"/><text x="166.5" y="670.3" font-family="Liberation Sans,sans-serif" font-size="4.6" font-weight="700" fill="#fff" text-anchor="middle" textLength="24">MANGROVE</text><circle cx="61" cy="765" r="19" fill="url(#gs)"/><circle cx="61" cy="765" r="18.6" fill="none" stroke="#fff" stroke-opacity=".10" stroke-width=".8"/><rect x="58.8" y="771.5" width="4.400" height="3.600" rx=".8" fill="#b04a45"/><ellipse cx="61" cy="767.6" rx="8.600" ry="5.400" fill="url(#tg)"/><ellipse cx="61" cy="761.8" rx="7" ry="4.800" fill="url(#tg)"/><ellipse cx="61.3" cy="756.8" rx="4.800" ry="4.400" fill="url(#tg)"/><ellipse cx="52.5" cy="756.5" rx="3.0" ry="5.7" fill="#fff" opacity=".16" transform="rotate(40 52.5 756.5)"/><path d="M37.5 778.3h6v8h-6l2.6-4z" fill="#6a3fd0"/><path d="M84.5 778.3h-6v8h6l-2.600-4z" fill="#6a3fd0"/><path d="M41.5 776.5q19.5 -2.200 39 0v8.200q-19.5 -2.200 -39 0z" fill="#8a5cf2"/><text x="61" y="782.6999999999999" font-family="Liberation Sans,sans-serif" font-size="4.6" font-weight="700" fill="#fff" text-anchor="middle" textLength="24">MANGROVE</text><circle cx="166.5" cy="765" r="19" fill="url(#gs)"/><circle cx="166.5" cy="765" r="18.6" fill="none" stroke="#fff" stroke-opacity=".10" stroke-width=".8"/><rect x="164.3" y="771.5" width="4.400" height="3.600" rx=".8" fill="#b04a45"/><ellipse cx="166.5" cy="767.6" rx="8.600" ry="5.400" fill="url(#tg)"/><ellipse cx="166.5" cy="761.8" rx="7" ry="4.800" fill="url(#tg)"/><ellipse cx="166.8" cy="756.8" rx="4.800" ry="4.400" fill="url(#tg)"/><ellipse cx="157.9" cy="756.5" rx="3.0" ry="5.7" fill="#fff" opacity=".16" transform="rotate(40 157.9 756.5)"/><path d="M143.0 778.3h6v8h-6l2.6-4z" fill="#6a3fd0"/><path d="M190.0 778.3h-6v8h6l-2.600-4z" fill="#6a3fd0"/><path d="M147.0 776.5q19.5 -2.200 39 0v8.200q-19.5 -2.200 -39 0z" fill="#8a5cf2"/><text x="166.5" y="782.6999999999999" font-family="Liberation Sans,sans-serif" font-size="4.6" font-weight="700" fill="#fff" text-anchor="middle" textLength="24">MANGROVE</text><path d="M35.6 582.8a2.600 2.600 0 0 1 2.600 2.600c0 2-2.600 5-2.600 5s-2.600-3-2.600-5a2.600 2.600 0 0 1 2.600-2.600z" fill="#fff"/><circle cx="35.6" cy="585.4" r=".9" fill="#444"/><path d="M141.2 582.8a2.600 2.600 0 0 1 2.600 2.600c0 2-2.600 5-2.600 5s-2.600-3-2.600-5a2.600 2.600 0 0 1 2.600-2.600z" fill="#fff"/><circle cx="141.2" cy="585.4" r=".9" fill="#444"/><path d="M35.6 695.1999999999999a2.600 2.600 0 0 1 2.600 2.600c0 2-2.600 5-2.600 5s-2.600-3-2.600-5a2.600 2.600 0 0 1 2.600-2.600z" fill="#fff"/><circle cx="35.6" cy="697.8" r=".9" fill="#444"/><path d="M141.2 695.1999999999999a2.600 2.600 0 0 1 2.600 2.600c0 2-2.600 5-2.600 5s-2.600-3-2.600-5a2.600 2.600 0 0 1 2.600-2.600z" fill="#fff"/><circle cx="141.2" cy="697.8" r=".9" fill="#444"/></g><circle cx="34" cy="774.5" r="6.600" fill="#8f8f8f"/><path d="M30.800 774.600l2.400 2.400 4.200-4.600" fill="none" stroke="#f0f0f0" stroke-width="1.600" stroke-linecap="round" stroke-linejoin="round"/><path d="M87.800 777.600l-1.600 5.200 2.800-1 1.200 1.600 1-3.600 1 3.600 1.200-1.600 2.800 1-1.600-5.200z" fill="#2f7fe0"/><circle cx="91" cy="772.600" r="5.600" fill="#3d9af0"/><circle cx="91" cy="772.600" r="3.400" fill="#5ab0f7"/><g fill="#8a8a8a"><rect x="146.400" y="775.500" width="3.400" height="5.500" rx=".6"/><rect x="151.400" y="771.800" width="3.400" height="9.200" rx=".6"/><rect x="156.400" y="767.400" width="3.400" height="13.600" rx=".6"/></g><path d="M199 766.800c2.200 0 3.400 1.600 3.400 3.200 1.600.6 2.600 2 2.600 3.600 0 2.400-2 3.800-4.400 3.800h-.8v3.400h-1.600v-3.400h-.8c-2.400 0-4.400-1.400-4.400-3.800 0-1.600 1-3 2.600-3.600 0-1.600 1.200-3.200 3.400-3.200z" fill="#8a8a8a"/></svg>
<span class="t" style="left:69.7px;top:376.0px;font-size:8px;line-height:10px;font-weight:700;color:#f4f4f4;opacity:.92;">+30</span>
<span class="t" style="left:155.2px;top:366.0px;font-size:8px;line-height:10px;font-weight:700;color:#f4f4f4;opacity:.92;">+30</span>
<span class="t" style="left:135.0px;top:418.0px;font-size:8px;line-height:10px;font-weight:700;color:#f4f4f4;opacity:.92;">+30</span>
<span class="t" style="left:71.1px;top:439.0px;font-size:11.25px;line-height:14px;font-weight:400;color:#fff;letter-spacing:-0.10px;">Etree_974d4045</span>
<span class="t" style="left:6.6px;top:462.0px;font-size:8.0px;line-height:10px;font-weight:400;color:#fff;letter-spacing:-0.14px;">Level 9</span>
<span class="t" style="left:155.0px;top:473.0px;font-size:8.5px;line-height:10px;font-weight:400;color:#fff;letter-spacing:-0.18px;"><span style="color:#36b4ef;font-weight:700">8190</span> to next level</span>
<span class="t" style="left:13.0px;top:499.0px;font-size:9.5px;line-height:11px;font-weight:400;color:#b8b8b8;letter-spacing:0.23px;">My certificates</span>
<span class="t" style="left:161.6px;top:499.0px;font-size:9.5px;line-height:11px;font-weight:400;color:#45b3ea;letter-spacing:0.18px;">5 completed</span>
<span class="t" style="left:40.5px;top:568.0px;font-size:8.5px;line-height:10px;font-weight:400;color:#fff;letter-spacing:-0.27px;">In Progress</span>
<span class="t" style="left:43.0px;top:581.0px;font-size:8.5px;line-height:10px;font-weight:400;color:#fff;letter-spacing:-0.26px;">Mozambique</span>
<span class="t" style="left:18.6px;top:603.0px;font-size:9px;line-height:11px;font-weight:400;color:#fff;">83%</span>
<span class="t" style="left:55.0px;top:603.0px;font-size:8.5px;line-height:10px;font-weight:400;color:#b0b0b8;letter-spacing:-0.07px;">41810/50000</span>
<span class="t" style="left:124.0px;top:521.0px;font-size:9px;line-height:11px;font-weight:700;color:#fff;">5</span>
<span class="t" style="left:147.0px;top:568.0px;font-size:8.5px;line-height:10px;font-weight:400;color:#fff;letter-spacing:-0.22px;">Completed</span>
<span class="t" style="left:148.2px;top:581.0px;font-size:8.5px;line-height:10px;font-weight:400;color:#fff;letter-spacing:-0.24px;">Mozambique</span>
<span class="t" style="left:137.1px;top:602.0px;font-size:9.25px;line-height:11px;font-weight:700;color:#fff;letter-spacing:-0.08px;">Check details</span>
<span class="t" style="left:18.4px;top:634.0px;font-size:9px;line-height:11px;font-weight:700;color:#fff;">4</span>
<span class="t" style="left:124.0px;top:634.0px;font-size:9px;line-height:11px;font-weight:700;color:#fff;">3</span>
<span class="t" style="left:41.4px;top:680.0px;font-size:8.5px;line-height:10px;font-weight:400;color:#fff;letter-spacing:-0.22px;">Completed</span>
<span class="t" style="left:147.0px;top:680.0px;font-size:8.5px;line-height:10px;font-weight:400;color:#fff;letter-spacing:-0.22px;">Completed</span>
<span class="t" style="left:42.6px;top:693.0px;font-size:8.5px;line-height:10px;font-weight:400;color:#fff;letter-spacing:-0.24px;">Mozambique</span>
<span class="t" style="left:148.2px;top:693.0px;font-size:8.5px;line-height:10px;font-weight:400;color:#fff;letter-spacing:-0.24px;">Mozambique</span>
<span class="t" style="left:31.5px;top:715.0px;font-size:9.25px;line-height:11px;font-weight:700;color:#fff;letter-spacing:-0.08px;">Check details</span>
<span class="t" style="left:137.1px;top:715.0px;font-size:9.25px;line-height:11px;font-weight:700;color:#fff;letter-spacing:-0.08px;">Check details</span>
<span class="t" style="left:18.4px;top:746.0px;font-size:9px;line-height:11px;font-weight:700;color:#fff;">2</span>
<span class="t" style="left:124.0px;top:746.0px;font-size:9px;line-height:11px;font-weight:700;color:#fff;">1</span>
<span class="t" style="left:21.5px;top:785.0px;font-size:9.5px;line-height:11px;font-weight:400;color:#a2a2a2;letter-spacing:0.28px;">Tasks</span>
<span class="t" style="left:66.5px;top:785.0px;font-size:9.5px;line-height:11px;font-weight:400;color:#fff;letter-spacing:0.21px;">Certificates</span>
<span class="t" style="left:136.3px;top:785.0px;font-size:9.5px;line-height:11px;font-weight:400;color:#a2a2a2;letter-spacing:-0.06px;">Ranking</span>
<span class="t" style="left:190.6px;top:785.0px;font-size:9.5px;line-height:11px;font-weight:400;color:#a2a2a2;letter-spacing:0.04px;">Site</span>
<span class="t" style="left:16.8px;top:1106.0px;font-size:14px;line-height:17px;font-weight:400;color:#1a1a1a;-webkit-text-stroke:0.64px #1a1a1a;letter-spacing:0.26px;">Weather maps</span>
<svg style="left:0;top:1140px" width="800" height="440" viewBox="0 1140 800 440">
<defs><clipPath id="mapc"><rect x="16.800" y="1146.800" width="767" height="422" rx="9.500"/></clipPath><linearGradient id="bg" x1="0" y1="0" x2="0" y2="1"><stop offset="0" stop-color="#ffe620"/><stop offset=".5" stop-color="#ffd61c"/><stop offset="1" stop-color="#f7941e"/></linearGradient></defs>
<g clip-path="url(#mapc)">
<rect x="10" y="1140" width="790" height="440" fill="#b3e3fa"/>
<path d="M13.5 1477.5Q10 1430 25.0 1417.5Q40 1405 55.0 1397.5Q70 1390 79.0 1382.5Q88 1375 88.0 1360.0Q88 1345 94.0 1331.5Q100 1318 106.0 1319.0Q112 1320 123.5 1332.5Q135 1345 152.5 1355.5Q170 1366 185.0 1373.0Q200 1380 212.5 1384.0Q225 1388 235.0 1390.0Q245 1392 257.5 1386.5Q270 1381 280.0 1378.0Q290 1375 300.0 1372.0Q310 1369 316.0 1365.5Q322 1362 326.0 1358.5Q330 1355 335.0 1356.0Q340 1357 345.0 1348.5Q350 1340 356.0 1332.5Q362 1325 371.0 1319.5Q380 1314 390.0 1312.5Q400 1311 412.5 1312.5Q425 1314 437.5 1315.5Q450 1317 460.0 1319.5Q470 1322 477.5 1326.0Q485 1330 492.5 1334.0Q500 1338 515.0 1337.5Q530 1337 545.0 1339.5Q560 1342 575.0 1348.0Q590 1354 601.0 1361.5Q612 1369 621.5 1376.5Q631 1384 640.5 1391.5Q650 1399 657.5 1408.0Q665 1417 672.5 1424.5Q680 1432 687.5 1439.5Q695 1447 706.0 1453.0Q717 1459 728.5 1464.5Q740 1470 752.5 1476.0Q765 1482 777.5 1488.5Q790 1495 790.0 1537.5Q790 1580 667.5 1580.0Q545 1580 548.5 1570.0Q552 1560 556.0 1517.5Q560 1475 555.0 1465.0Q550 1455 542.5 1446.0Q535 1437 522.5 1431.5Q510 1426 500.0 1421.0Q490 1416 480.0 1408.5Q470 1401 460.0 1398.0Q450 1395 440.0 1397.0Q430 1399 420.0 1403.5Q410 1408 402.5 1409.0Q395 1410 386.0 1410.5Q377 1411 369.5 1420.5Q362 1430 358.5 1437.5Q355 1445 350.0 1453.5Q345 1462 338.5 1468.0Q332 1474 327.0 1487.0Q322 1500 311.0 1520.0Q300 1540 298.0 1545.0Q296 1550 303.0 1565.0Q310 1580 205.0 1580.0Q100 1580 98.0 1570.0Q96 1560 88.0 1556.0Q80 1552 70.0 1548.5Q60 1545 52.5 1542.5Q45 1540 37.5 1536.0Q30 1532 23.5 1528.5Q17 1525 13.5 1477.5z" fill="#f1eee5" /><ellipse cx="343" cy="1380" rx="9" ry="4" fill="#b3e3fa" transform="rotate(-30 343 1380)"/><ellipse cx="549" cy="1397" rx="9" ry="4" fill="#b3e3fa" transform="rotate(-25 549 1397)"/><g fill="none" stroke="#9a8578" stroke-width=".9" stroke-dasharray="3 2"><path d="M510 1343L530 1348 545 1352 560 1362 575 1372 590 1372 600 1378 608 1392 625 1393 640 1400 655 1418 670 1432 688 1448 700 1462 720 1470"/><path d="M608 1392L600 1405 590 1415 578 1428 565 1430 552 1438 548 1460 552 1480"/><path d="M655 1418L640 1425 632 1440 635 1462 640 1480"/><path d="M332 1374l10 6 12 2 8 8 3 14"/><path d="M296 1390l14 12 10 18 14 10"/></g><path d="M415 1388C440 1384 470 1392 490 1402S540 1418 560 1420 590 1438 600 1470" fill="none" stroke="#f3c6a5" stroke-width="1"/><path d="M10 1412L17 1407.5L24.5 1400L32 1392.5L42 1386L52 1381L67 1376L75.8 1371L77 1365L74.5 1352.5L75 1342.5L68 1340L61 1343.8L54.5 1340L48 1335L49.5 1332L58 1335L67 1337.5L77 1335L82 1322.5L92 1312.5L98 1302.5L103 1295L105.8 1301L117 1306L127 1317.5L137 1330L147 1340L157 1348.8L172 1355L182 1353.8L189.5 1362.5L202 1370L210 1365L220 1367.5L225 1377.5L237.5 1386L250 1389L265 1384L280 1379L287.5 1374L295 1370L307.5 1369L317.5 1371L330 1375L345 1379L352.5 1382.5L350 1392.5L340 1405L325 1407.5L318 1420L322 1440L334 1452L340 1464L330 1474L322 1500L300 1540L296 1550L300 1580L100 1580L96 1560L80 1552L60 1545L45 1540L30 1532L10 1525z" fill="#93d182" stroke="#93d182" stroke-width="1.5" stroke-linejoin="round"/><path d="M94.5 1318.5Q102 1316 108.2 1315.5Q114.5 1315 118.2 1318.8Q122 1322.5 127.0 1327.5Q132 1332.5 137.0 1337.5Q142 1342.5 149.5 1346.8Q157 1351 164.5 1354.2Q172 1357.5 179.5 1361.2Q187 1365 194.5 1369.5Q202 1374 208.5 1379.0Q215 1384 220.0 1387.0Q225 1390 230.0 1392.5Q235 1395 242.5 1395.5Q250 1396 257.5 1395.5Q265 1395 273.8 1392.5Q282.5 1390 288.8 1386.2Q295 1382.5 300.0 1380.8Q305 1379 311.2 1379.5Q317.5 1380 321.2 1383.8Q325 1387.5 323.8 1391.2Q322.5 1395 315.0 1398.8Q307.5 1402.5 303.8 1406.2Q300 1410 298.0 1417.5Q296 1425 298.0 1435.0Q300 1445 305.0 1453.5Q310 1462 305.0 1469.0Q300 1476 295.0 1488.0Q290 1500 280.0 1522.5Q270 1545 143.5 1545.0Q17 1545 13.5 1522.5Q10 1500 10.0 1460.0Q10 1420 16.0 1415.0Q22 1410 28.5 1406.0Q35 1402 42.5 1400.0Q50 1398 53.5 1391.5Q57 1385 63.5 1383.5Q70 1382 80.0 1383.0Q90 1384 95.0 1388.0Q100 1392 96.0 1397.0Q92 1402 96.0 1405.0Q100 1408 107.5 1406.0Q115 1404 118.5 1399.0Q122 1394 115.0 1392.0Q108 1390 108.8 1386.2Q109.5 1382.5 118.2 1379.2Q127 1376 122.0 1374.2Q117 1372.5 115.0 1367.5Q113 1362.5 115.0 1355.8Q117 1349 115.0 1348.0Q113 1347 111.2 1348.5Q109.5 1350 108.2 1356.2Q107 1362.5 104.5 1365.0Q102 1367.5 94.5 1369.5Q87 1371.5 83.2 1370.8Q79.5 1370 78.2 1363.8Q77 1357.5 76.8 1350.0Q76.5 1342.5 78.0 1336.2Q79.5 1330 83.2 1325.5Q87 1321 94.5 1318.5z" fill="#43b47b" /><path d="M234.0 1397.5Q228 1392 239.0 1394.5Q250 1397 260.0 1396.0Q270 1395 280.0 1391.5Q290 1388 296.0 1390.0Q302 1392 296.0 1396.0Q290 1400 276.0 1402.0Q262 1404 251.0 1403.5Q240 1403 234.0 1397.5z" fill="#93d182" /><path d="M179.0 1390.5Q176 1386 188.0 1385.0Q200 1384 207.0 1387.0Q214 1390 209.0 1393.0Q204 1396 193.0 1395.5Q182 1395 179.0 1390.5z" fill="#93d182" /><path d="M192.5 1390.0Q192 1387.5 196.0 1387.8Q200 1388 200.0 1390.2Q200 1392.5 196.5 1392.5Q193 1392.5 192.5 1390.0z" fill="#93d182" /><path d="M134.8 1394.0Q134.5 1391 139.5 1391.5Q144.5 1392 143.8 1394.8Q143 1397.5 139.0 1397.2Q135 1397 134.8 1394.0z" fill="#93d182" /><path d="M106.5 1406.0Q105 1398 115.0 1397.0Q125 1396 126.5 1404.0Q128 1412 118.0 1413.0Q108 1414 106.5 1406.0z" fill="#93d182" /><path d="M217.0 1408.0Q216 1402 231.0 1404.0Q246 1406 245.0 1411.0Q244 1416 231.0 1415.0Q218 1414 217.0 1408.0z" fill="#93d182" /><path d="M126.5 1370.0Q125 1367 137.5 1364.0Q150 1361 154.2 1365.0Q158.5 1369 157.2 1373.0Q156 1377 148.0 1377.5Q140 1378 134.0 1375.5Q128 1373 126.5 1370.0z" fill="#3f8f70" /><path d="M180.0 1375.0Q180 1372 184.0 1371.5Q188 1371 190.0 1374.5Q192 1378 189.0 1379.8Q186 1381.5 183.0 1379.8Q180 1378 180.0 1375.0z" fill="#3f8f70" /><path d="M166.0 1408.0Q162 1402 171.0 1399.5Q180 1397 188.5 1399.5Q197 1402 196.5 1407.0Q196 1412 183.0 1413.0Q170 1414 166.0 1408.0z" fill="#3f8f70" /><path d="M33.0 1414.0Q32 1408 40.0 1407.0Q48 1406 49.0 1411.0Q50 1416 42.0 1418.0Q34 1420 33.0 1414.0z" fill="#3f8f70" /><path d="M27.5 1460.0Q25 1440 32.5 1432.5Q40 1425 50.0 1427.5Q60 1430 55.0 1450.0Q50 1470 40.0 1475.0Q30 1480 27.5 1460.0z" fill="#3f8f70" /><path d="M61.0 1471.0Q60 1464 72.0 1463.0Q84 1462 85.0 1469.0Q86 1476 74.0 1477.0Q62 1478 61.0 1471.0z" fill="#3f8f70" /><path d="M207.5 1470.5Q205 1464 225.0 1463.0Q245 1462 247.5 1468.0Q250 1474 230.0 1475.5Q210 1477 207.5 1470.5z" fill="#3f8f70" /><ellipse cx="89.500" cy="1377" rx="5.500" ry="3" fill="#d6f0fa"/><ellipse cx="24.500" cy="1378" rx="2.600" ry="2.200" fill="#f4f1e8"/><path d="M38 1381q3-4 8-4t6 4q-2 3-7 2t-7-2z" fill="#f4f1e8"/><path d="M10.0 1475.0Q10 1440 25.0 1442.5Q40 1445 51.0 1457.5Q62 1470 73.0 1474.0Q84 1478 77.0 1489.0Q70 1500 60.0 1507.5Q50 1515 40.0 1510.0Q30 1505 20.0 1507.5Q10 1510 10.0 1475.0z" fill="#f2c878" /><path d="M151.0 1415.0Q150 1410 161.0 1408.5Q172 1407 171.0 1412.5Q170 1418 161.0 1419.0Q152 1420 151.0 1415.0z" fill="#f2c878" /><path d="M84 1476L98 1461L132 1461L142 1476z" fill="#d8586c" /><path d="M92 1476L104 1463L134 1463L140 1476z" fill="#b040a8" /><path d="M102 1476L112 1465L135 1465L138 1476z" fill="#8440b8" /><path d="M112 1476L119 1467L136 1467L137 1476z" fill="#6a3fb0" /><rect x="10" y="1541" width="60" height="40" fill="#b3e3fa"/><rect x="282" y="1541" width="30" height="40" fill="#b3e3fa"/><path d="M173.0 1538.0Q62 1538 66.0 1542.0Q70 1546 74.0 1550.0Q78 1554 83.0 1559.0Q88 1564 90.0 1572.0Q92 1580 191.0 1580.0Q290 1580 287.0 1570.0Q284 1560 281.0 1555.0Q278 1550 281.0 1544.0Q284 1538 173.0 1538.0z" fill="#f1eee5" /><path d="M76.5 1546.5Q73 1541 90.0 1541.0Q107 1541 106.0 1546.0Q105 1551 92.5 1551.5Q80 1552 76.5 1546.5z" fill="#93d182" /><path d="M109.5 1554.0Q107 1540 124.0 1540.0Q141 1540 142.0 1553.0Q143 1566 135.5 1570.0Q128 1574 120.0 1571.0Q112 1568 109.5 1554.0z" fill="#93d182" /><path d="M121.0 1555.0Q120 1548 127.0 1547.0Q134 1546 135.0 1553.0Q136 1560 129.0 1561.0Q122 1562 121.0 1555.0z" fill="#6cc27a" /><path d="M150.0 1568.0Q150 1560 158.0 1558.0Q166 1556 168.0 1565.0Q170 1574 160.0 1575.0Q150 1576 150.0 1568.0z" fill="#93d182" /><path d="M166.0 1558.0Q165 1540 174.5 1540.0Q184 1540 184.0 1558.0Q184 1576 175.5 1576.0Q167 1576 166.0 1558.0z" fill="#43b47b" /><path d="M210.0 1558.0Q208 1540 233.0 1540.0Q258 1540 259.0 1550.0Q260 1560 250.0 1567.0Q240 1574 226.0 1575.0Q212 1576 210.0 1558.0z" fill="#93d182" /><path d="M215.0 1565.0Q214 1556 225.0 1554.0Q236 1552 238.0 1560.0Q240 1568 228.0 1571.0Q216 1574 215.0 1565.0z" fill="#43b47b" /><path d="M177.5 1564.0Q177 1550 185.5 1547.0Q194 1544 202.0 1547.0Q210 1550 212.0 1563.0Q214 1576 196.0 1577.0Q178 1578 177.5 1564.0z" fill="#f3c35e" /><path d="M186.0 1570.0Q186 1560 192.0 1558.0Q198 1556 202.0 1561.0Q206 1566 205.0 1573.0Q204 1580 195.0 1580.0Q186 1580 186.0 1570.0z" fill="#ea8a6c" /><path d="M48.5 1555.0Q47 1549 50.5 1548.0Q54 1547 58.0 1551.5Q62 1556 56.0 1558.5Q50 1561 48.5 1555.0z" fill="#3aa76d" /><path d="M437 1568L445 1552L452 1568z" fill="#3aa76d" /><path d="M352 1343L358 1328L370 1317.5L385 1311.5L394 1308.5L409 1316L427 1311.5L442 1314.5L457 1320.5L472 1323.5L484 1329.5L496 1338.5L508 1347.5L517 1359.5L520 1373L526 1385L535 1397L544 1407.5L553 1419.5L557.5 1427L550 1436L544 1431.5L532 1424L520 1418L508 1413.5L496 1406L487 1394L481 1385L476.5 1383.5L472 1391L460 1394L445 1392.5L436 1385L427 1376L418 1371.5L406 1374.5L394 1380.5L385 1383.5L376 1379L367 1370L358 1359.5L352 1350.5z" fill="#95cd78" stroke="#95cd78" stroke-width="2" stroke-linejoin="round"/><path d="M385 1323.5L400 1325L412 1331L427 1326.5L439 1325L454 1329.5L463 1337L472 1344.5L481 1355L490 1347.5L499 1353.5L508 1362.5L517 1376L523 1388L532 1398.5L541 1410.5L550 1422.5L556 1427L547 1428.5L535 1421L520 1413.5L508 1410.5L496 1400L487 1386.5L475 1379L469 1385L460 1388L445 1388L436 1379L430 1367L427 1355L418 1352L406 1355L394 1359.5L385 1365.5L382 1361L388 1349L394 1340L388 1331z" fill="#55b374" stroke="#55b374" stroke-width="1.500" stroke-linejoin="round"/><ellipse cx="421" cy="1345" rx="9" ry="5" fill="#95cd78"/><ellipse cx="445" cy="1358" rx="6" ry="4.500" fill="#95cd78"/><path d="M459.5 1360.0Q460 1357 464.0 1356.5Q468 1356 469.0 1360.0Q470 1364 467.0 1366.0Q464 1368 461.5 1365.5Q459 1363 459.5 1360.0z" fill="#418f6c" /><path d="M501.5 1400.5Q502 1398 507.0 1397.2Q512 1396.5 513.5 1399.8Q515 1403 511.0 1405.0Q507 1407 504.0 1405.0Q501 1403 501.5 1400.5z" fill="#418f6c" /><path d="M490.5 1380.0Q490 1378 493.5 1377.5Q497 1377 497.5 1379.0Q498 1381 494.5 1381.5Q491 1382 490.5 1380.0z" fill="#418f6c" /><path d="M536.0 1409.5Q534 1403 538.0 1406.0Q542 1409 544.0 1414.0Q546 1419 542.0 1417.5Q538 1416 536.0 1409.5z" fill="#6fbf74" /><ellipse cx="480" cy="1389" rx="2.500" ry="5" fill="#f1eee5" transform="rotate(15 480 1389)"/><path d="M339.0 1390.0Q340 1380 346.0 1379.0Q352 1378 353.0 1385.0Q354 1392 350.0 1399.0Q346 1406 342.0 1403.0Q338 1400 339.0 1390.0z" fill="#95cd78" /><ellipse cx="362" cy="1299" rx="4" ry="2.500" fill="#8fcf7f"/><path d="M602.0 1555.0Q600 1548 612.5 1547.0Q625 1546 632.5 1551.0Q640 1556 634.0 1561.0Q628 1566 616.0 1564.0Q604 1562 602.0 1555.0z" fill="#93d182" /><path d="M620.0 1564.0Q618 1556 627.0 1554.0Q636 1552 638.0 1559.0Q640 1566 631.0 1569.0Q622 1572 620.0 1564.0z" fill="#5ab56e" /><path d="M655.0 1569.0Q650 1566 656.0 1555.0Q662 1544 665.0 1550.0Q668 1556 664.0 1564.0Q660 1572 655.0 1569.0z" fill="#93d182" /><path d="M770 1512L780 1500L790 1500L790 1580L760 1580L758 1560L770 1548z" fill="#f08aa0" /><path d="M774 1516L782 1506L790 1506L790 1548L776 1546z" fill="#e0609a" /><path d="M766 1556L778 1550L790 1552L790 1580L764 1580z" fill="#e86a90" /><path d="M778 1520L790 1516L790 1540L780 1540z" fill="#c86ad0" /><text x="341" y="1350.5" font-family="Liberation Sans,sans-serif" font-size="10.5" font-weight="700" fill="#222" stroke="#fff" stroke-opacity="1" stroke-width="2.4" paint-order="stroke" stroke-linejoin="round" text-anchor="middle" letter-spacing="0">Colón</text><text x="483" y="1320" font-family="Liberation Sans,sans-serif" font-size="10.5" font-weight="700" fill="#222" stroke="#fff" stroke-opacity="1" stroke-width="2.4" paint-order="stroke" stroke-linejoin="round" text-anchor="middle" letter-spacing="0">El Porvenir</text><text x="566.5" y="1419" font-family="Liberation Sans,sans-serif" font-size="10.5" font-weight="700" fill="#222" stroke="#fff" stroke-opacity="1" stroke-width="2.4" paint-order="stroke" stroke-linejoin="round" text-anchor="middle" letter-spacing="0">Tortí</text><text x="397" y="1401" font-family="Liberation Sans,sans-serif" font-size="15" font-weight="700" fill="#222" stroke="#fff" stroke-opacity="1" stroke-width="2.4" paint-order="stroke" stroke-linejoin="round" text-anchor="middle" letter-spacing="0">Panama</text><text x="397" y="1419.5" font-family="Liberation Sans,sans-serif" font-size="15" font-weight="700" fill="#222" stroke="#fff" stroke-opacity="1" stroke-width="2.4" paint-order="stroke" stroke-linejoin="round" text-anchor="middle" letter-spacing="0">City</text><text x="286" y="1393" font-family="Liberation Sans,sans-serif" font-size="11" font-weight="400" fill="#456b60" stroke="#fff" stroke-opacity="0.65" stroke-width="2" paint-order="stroke" stroke-linejoin="round" text-anchor="middle" letter-spacing="0.5">COLÓN</text><text x="455" y="1374.5" font-family="Liberation Sans,sans-serif" font-size="11" font-weight="400" fill="#456b60" stroke="#fff" stroke-opacity="0.65" stroke-width="2" paint-order="stroke" stroke-linejoin="round" text-anchor="middle" letter-spacing="0.8">PANAMÁ</text><text x="567" y="1360.5" font-family="Liberation Sans,sans-serif" font-size="11" font-weight="400" fill="#7d848c" stroke="#fff" stroke-opacity="0.65" stroke-width="2" paint-order="stroke" stroke-linejoin="round" text-anchor="middle" letter-spacing="0.8">SAN BLAS</text><text x="167" y="1477" font-family="Liberation Sans,sans-serif" font-size="10.5" font-weight="700" fill="#222" stroke="#fff" stroke-opacity="1" stroke-width="2.4" paint-order="stroke" stroke-linejoin="round" text-anchor="middle" letter-spacing="0">Santa Fe</text><text x="630" y="1480" font-family="Liberation Sans,sans-serif" font-size="10.5" font-weight="700" fill="#222" stroke="#fff" stroke-opacity="1" stroke-width="2.4" paint-order="stroke" stroke-linejoin="round" text-anchor="middle" letter-spacing="0">Metetí</text><text x="732" y="1478" font-family="Liberation Sans,sans-serif" font-size="10.5" font-weight="700" fill="#222" stroke="#fff" stroke-opacity="1" stroke-width="2.4" paint-order="stroke" stroke-linejoin="round" text-anchor="middle" letter-spacing="0">Acandí</text><text x="227" y="1552" font-family="Liberation Sans,sans-serif" font-size="11" font-weight="400" fill="#456b60" stroke="#fff" stroke-opacity="0.65" stroke-width="2" paint-order="stroke" stroke-linejoin="round" text-anchor="middle" letter-spacing="0.8">HERRERA</text><text x="16.5" y="1449" font-family="Liberation Sans,sans-serif" font-size="10" font-weight="400" fill="#456b60" stroke="#fff" stroke-opacity="0.65" stroke-width="2" paint-order="stroke" stroke-linejoin="round" text-anchor="start" letter-spacing="0.8">NGÄBE</text><text x="25" y="1462" font-family="Liberation Sans,sans-serif" font-size="10" font-weight="400" fill="#456b60" stroke="#fff" stroke-opacity="0.65" stroke-width="2" paint-order="stroke" stroke-linejoin="round" text-anchor="start" letter-spacing="0.8">COMARCA</text><text x="24" y="1504.5" font-family="Liberation Sans,sans-serif" font-size="10" font-weight="400" fill="#456b60" stroke="#fff" stroke-opacity="0.65" stroke-width="2" paint-order="stroke" stroke-linejoin="round" text-anchor="start" letter-spacing="0.8">CHIRIQUÍ</text><text x="756" y="1506" font-family="Liberation Sans,sans-serif" font-size="11" font-weight="400" fill="#456b60" stroke="#fff" stroke-opacity="0.65" stroke-width="2" paint-order="stroke" stroke-linejoin="round" text-anchor="start" letter-spacing="0.8">RCA</text><text x="757" y="1484" font-family="Liberation Sans,sans-serif" font-size="6.500" fill="#7a8a99">ders</text><circle cx="412.200" cy="1388.200" r="2.700" fill="#f8bd2e" stroke="#fff" stroke-width="1.200"/><g transform="translate(136.7 1348.5) scale(1.0)" opacity="1"><path d="M2.800 -9.500L-7.700 2.100L-0.700 3.100L-2.100 9.500L7.700 -1.300L1.700 -2.300z" fill="url(#bg)" stroke="#7d6a12" stroke-width=".9" stroke-linejoin="round"/></g><g transform="translate(682.5 1286) scale(1.0)" opacity="1"><path d="M2.800 -9.500L-7.700 2.100L-0.700 3.100L-2.100 9.500L7.700 -1.300L1.700 -2.300z" fill="url(#bg)" stroke="#7d6a12" stroke-width=".9" stroke-linejoin="round"/></g><g transform="translate(650 1386.5) scale(1.0)" opacity="1"><path d="M2.800 -9.500L-7.700 2.100L-0.700 3.100L-2.100 9.500L7.700 -1.300L1.700 -2.300z" fill="url(#bg)" stroke="#7d6a12" stroke-width=".9" stroke-linejoin="round"/></g><g transform="translate(468 1433.5) scale(1)" opacity="0.4"><path d="M2.800 -9.500L-7.700 2.100L-0.700 3.100L-2.100 9.500L7.700 -1.300L1.700 -2.300z" fill="url(#bg)" stroke="#7d6a12" stroke-width=".9" stroke-linejoin="round"/></g><g transform="translate(132 1474) scale(1.0)" opacity="1"><path d="M2.800 -9.500L-7.700 2.100L-0.700 3.100L-2.100 9.500L7.700 -1.300L1.700 -2.300z" fill="url(#bg)" stroke="#7d6a12" stroke-width=".9" stroke-linejoin="round"/></g><g transform="translate(198 1476) scale(1.0)" opacity="1"><path d="M2.800 -9.500L-7.700 2.100L-0.700 3.100L-2.100 9.500L7.700 -1.300L1.700 -2.300z" fill="url(#bg)" stroke="#7d6a12" stroke-width=".9" stroke-linejoin="round"/></g><g transform="translate(37 1520) scale(1.0)" opacity="1"><path d="M2.800 -9.500L-7.700 2.100L-0.700 3.100L-2.100 9.500L7.700 -1.300L1.700 -2.300z" fill="url(#bg)" stroke="#7d6a12" stroke-width=".9" stroke-linejoin="round"/></g><g transform="translate(537 1561) scale(1.0)" opacity="1"><path d="M2.800 -9.500L-7.700 2.100L-0.700 3.100L-2.100 9.500L7.700 -1.300L1.700 -2.300z" fill="url(#bg)" stroke="#7d6a12" stroke-width=".9" stroke-linejoin="round"/></g><g transform="translate(728 1561) scale(1.0)" opacity="1"><path d="M2.800 -9.500L-7.700 2.100L-0.700 3.100L-2.100 9.500L7.700 -1.300L1.700 -2.300z" fill="url(#bg)" stroke="#7d6a12" stroke-width=".9" stroke-linejoin="round"/></g><g transform="translate(652 1566) scale(1.0)" opacity="1"><path d="M2.800 -9.500L-7.700 2.100L-0.700 3.100L-2.100 9.500L7.700 -1.300L1.700 -2.300z" fill="url(#bg)" stroke="#7d6a12" stroke-width=".9" stroke-linejoin="round"/></g></g><rect x="59.300" y="1173" width="88.700" height="32.500" rx="6" fill="#fff"/><g fill="none" stroke="#a8872e" stroke-width="1.200" stroke-linecap="round"><path d="M81.26 1196.06A8 8 0 1 1 75.88 1182.40"/><path d="M79.42 1194.22A5.4 5.4 0 1 1 75.79 1185.00"/><path d="M77.58 1192.38A2.8 2.8 0 1 1 75.70 1187.60"/><path d="M75.600 1190.400L82.600 1181.600"/></g><path d="M129.600 1188l3.600 3.600 3.600-3.600" fill="none" stroke="#222" stroke-width="1.500"/><rect x="732.800" y="1202.200" width="33.200" height="66.300" rx="2.500" fill="#fff"/><path d="M732.800 1235.200h33.200" stroke="#e4e4e4" stroke-width=".8"/><path d="M744.200 1217.500h11M749.700 1212v11M744.200 1251h11" stroke="#333" stroke-width="1.500"/><rect x="42.700" y="1412" width="307" height="49.500" rx="6" fill="#fff"/><path d="M42.700 1437h307" stroke="#ececec" stroke-width=".8"/><rect x="130.7" y="1419.300" width="9.800" height="9.800" rx="1.500" fill="#6a6a6a"/><path d="M132.89999999999998 1424.4l2.200 2.200 3.400-4.200" fill="none" stroke="#fff" stroke-width="1.300"/><rect x="242.5" y="1419.300" width="9.800" height="9.800" rx="1.500" fill="#6a6a6a"/><path d="M244.7 1424.4l2.200 2.200 3.400-4.200" fill="none" stroke="#fff" stroke-width="1.300"/><circle cx="135.500" cy="1449.300" r="5" fill="#8c8c8c"/><circle cx="246.700" cy="1449.300" r="4.700" fill="#fff" stroke="#999" stroke-width=".9"/><rect x="42.500" y="1475.800" width="715" height="67" rx="10" fill="#fff"/><circle cx="76.500" cy="1507.700" r="17.800" fill="#fdc830"/><path d="M72.500 1502.200v11l8.500-5.500z" fill="#555"/><rect x="104.600" y="1503" width="624" height="9.200" rx="4.600" fill="#e4e4e4"/><rect x="104.600" y="1503" width="232" height="9.200" rx="4.600" fill="#fdca36"/><rect x="132.9" y="1512.200" width="1.200" height="3.600" fill="#222"/><rect x="181.9" y="1512.200" width="1.200" height="3.600" fill="#222"/><rect x="236.9" y="1512.200" width="1.200" height="3.600" fill="#222"/><rect x="286.9" y="1512.200" width="1.200" height="3.600" fill="#222"/><rect x="392.9" y="1512.200" width="1.200" height="3.600" fill="#222"/><rect x="448.4" y="1512.200" width="1.200" height="3.600" fill="#222"/><rect x="497.9" y="1512.200" width="1.200" height="3.600" fill="#222"/><rect x="553.4" y="1512.200" width="1.200" height="3.600" fill="#222"/><rect x="602.9" y="1512.200" width="1.200" height="3.600" fill="#222"/><rect x="659.4" y="1512.200" width="1.200" height="3.600" fill="#222"/><rect x="708.4" y="1512.200" width="1.200" height="3.600" fill="#222"/><rect x="311.500" y="1492.500" width="49.500" height="26" rx="10.500" fill="#f9ba3c"/></svg>
<span class="t" style="left:88.7px;top:1182.0px;font-size:12.0px;line-height:14px;font-weight:400;color:#333;letter-spacing:-0.12px;">Radar</span>
<span class="t" style="left:52.5px;top:1419.0px;font-size:9.5px;line-height:11px;font-weight:400;color:#333;letter-spacing:0.11px;">Map layers</span>
<span class="t" style="left:144.7px;top:1419.0px;font-size:9.5px;line-height:11px;font-weight:400;color:#222;letter-spacing:0.12px;">Lightning strikes</span>
<span class="t" style="left:256.5px;top:1419.0px;font-size:9.5px;line-height:11px;font-weight:400;color:#222;letter-spacing:0.18px;">Thunderstorm paths</span>
<span class="t" style="left:52.5px;top:1444.0px;font-size:9.5px;line-height:11px;font-weight:400;color:#333;letter-spacing:0.41px;">Time</span>
<span class="t" style="left:143.9px;top:1444.0px;font-size:9.5px;line-height:11px;font-weight:400;color:#222;letter-spacing:0.12px;">4 Hours</span>
<span class="t" style="left:256.5px;top:1445.0px;font-size:9.25px;line-height:11px;font-weight:400;color:#222;letter-spacing:-0.09px;">10 Days</span>
<span class="t" style="left:323.0px;top:1500.0px;font-size:11px;line-height:13px;font-weight:700;color:#222;">NOW</span>
<span class="t" style="left:113.5px;top:1520.0px;font-size:10.25px;line-height:12px;font-weight:400;color:#222;letter-spacing:-0.10px;">3:30 PM</span>
<span class="t" style="left:163.0px;top:1520.0px;font-size:10.25px;line-height:12px;font-weight:400;color:#222;letter-spacing:-0.10px;">4:00 PM</span>
<span class="t" style="left:219.0px;top:1520.0px;font-size:10.25px;line-height:12px;font-weight:400;color:#222;letter-spacing:-0.10px;">4:30 PM</span>
<span class="t" style="left:265.0px;top:1519.0px;font-size:11px;line-height:13px;font-weight:700;color:#222;letter-spacing:0.15px;">5:00 PM</span>
<span class="t" style="left:325.0px;top:1520.0px;font-size:10.25px;line-height:12px;font-weight:400;color:#222;letter-spacing:-0.10px;">5:30 PM</span>
<span class="t" style="left:373.5px;top:1520.0px;font-size:10.25px;line-height:12px;font-weight:400;color:#222;letter-spacing:-0.10px;">6:00 PM</span>
<span class="t" style="left:430.0px;top:1520.0px;font-size:10.25px;line-height:12px;font-weight:400;color:#222;letter-spacing:-0.10px;">6:30 PM</span>
<span class="t" style="left:479.0px;top:1520.0px;font-size:10.25px;line-height:12px;font-weight:400;color:#222;letter-spacing:-0.10px;">7:00 PM</span>
<span class="t" style="left:535.0px;top:1519.0px;font-size:10.5px;line-height:13px;font-weight:400;color:#222;letter-spacing:-0.10px;">7:30 PM</span>
<span class="t" style="left:584.0px;top:1520.0px;font-size:10.25px;line-height:12px;font-weight:400;color:#222;letter-spacing:-0.10px;">8:00 PM</span>
<span class="t" style="left:640.0px;top:1519.0px;font-size:10.5px;line-height:13px;font-weight:400;color:#222;letter-spacing:-0.10px;">8:30 PM</span>
<span class="t" style="left:16.8px;top:1610.0px;font-size:14.5px;line-height:17px;font-weight:400;color:#1a1a1a;-webkit-text-stroke:0.67px #1a1a1a;letter-spacing:0.37px;">Monthly</span>
<div class="a" style="left:16.4px;top:1638.2px;width:58px;height:39px;border-radius:7px;background:#fdd02f"></div>
<span class="t" style="left:35.6px;top:1652.0px;font-size:11px;line-height:13px;font-weight:400;color:#1a1a1a;-webkit-text-stroke:0.51px #1a1a1a;">Aug</span>
<div class="a" style="left:80.9px;top:1638.2px;width:58px;height:39px;border-radius:7px;background:#f7fbff"></div>
<span class="t" style="left:100.1px;top:1652.0px;font-size:11px;line-height:13px;font-weight:400;color:#4a4a4a;">Sep</span>
<div class="a" style="left:145.4px;top:1638.2px;width:58px;height:39px;border-radius:7px;background:#f7fbff"></div>
<span class="t" style="left:165.8px;top:1652.0px;font-size:11px;line-height:13px;font-weight:400;color:#4a4a4a;">Oct</span>
<div class="a" style="left:209.9px;top:1638.2px;width:58px;height:39px;border-radius:7px;background:#f7fbff"></div>
<span class="t" style="left:229.1px;top:1652.0px;font-size:11px;line-height:13px;font-weight:400;color:#4a4a4a;">Nov</span>
<div class="a" style="left:274.4px;top:1638.2px;width:58px;height:39px;border-radius:7px;background:#f7fbff"></div>
<span class="t" style="left:293.6px;top:1652.0px;font-size:11px;line-height:13px;font-weight:400;color:#4a4a4a;">Dec</span>
<div class="a" style="left:338.9px;top:1638.2px;width:58px;height:39px;border-radius:7px;background:#f7fbff"></div>
<span class="t" style="left:359.0px;top:1643.0px;font-size:8px;line-height:10px;font-weight:400;color:#555;">2026</span>
<span class="t" style="left:359.0px;top:1653.0px;font-size:11px;line-height:13px;font-weight:400;color:#4a4a4a;">Jan</span>
<div class="a" style="left:403.4px;top:1638.2px;width:58px;height:39px;border-radius:7px;background:#f7fbff"></div>
<span class="t" style="left:422.9px;top:1652.0px;font-size:11px;line-height:13px;font-weight:400;color:#4a4a4a;">Feb</span>
<div class="a" style="left:467.9px;top:1638.2px;width:58px;height:39px;border-radius:7px;background:#f7fbff"></div>
<span class="t" style="left:487.4px;top:1652.0px;font-size:11px;line-height:13px;font-weight:400;color:#4a4a4a;">Mar</span>
<div class="a" style="left:532.4px;top:1638.2px;width:58px;height:39px;border-radius:7px;background:#f7fbff"></div>
<span class="t" style="left:552.8px;top:1652.0px;font-size:11px;line-height:13px;font-weight:400;color:#4a4a4a;">Apr</span>
<div class="a" style="left:596.9px;top:1638.2px;width:58px;height:39px;border-radius:7px;background:#f7fbff"></div>
<span class="t" style="left:615.5px;top:1652.0px;font-size:11px;line-height:13px;font-weight:400;color:#4a4a4a;">May</span>
<div class="a" style="left:661.4px;top:1638.2px;width:58px;height:39px;border-radius:7px;background:#f7fbff"></div>
<span class="t" style="left:681.5px;top:1652.0px;font-size:11px;line-height:13px;font-weight:400;color:#4a4a4a;">Jun</span>
<div class="a" style="left:725.9px;top:1638.2px;width:58px;height:39px;border-radius:7px;background:#f7fbff"></div>
<span class="t" style="left:747.9px;top:1652.0px;font-size:11px;line-height:13px;font-weight:400;color:#4a4a4a;">Jul</span>
<div class="a" style="left:16.4px;top:1690.5px;width:766.5px;height:100px;border-radius:11px;background:#f8fcff"></div>
<div class="a" style="left:29.7px;top:1728px;width:735px;height:1px;background:#e6eaef"></div>
<span class="t" style="left:29.7px;top:1702.0px;font-size:11px;line-height:13px;font-weight:400;color:#666;">Sun</span>
<span class="t" style="left:136.7px;top:1702.0px;font-size:11px;line-height:13px;font-weight:400;color:#666;">Mon</span>
<span class="t" style="left:243.7px;top:1702.0px;font-size:11px;line-height:13px;font-weight:400;color:#666;">Tue</span>
<span class="t" style="left:350.7px;top:1702.0px;font-size:11px;line-height:13px;font-weight:400;color:#666;">Wed</span>
<span class="t" style="left:457.7px;top:1702.0px;font-size:11px;line-height:13px;font-weight:400;color:#666;">Thu</span>
<span class="t" style="left:564.7px;top:1702.0px;font-size:11px;line-height:13px;font-weight:400;color:#666;">Fri</span>
<span class="t" style="left:671.7px;top:1702.0px;font-size:11px;line-height:13px;font-weight:400;color:#666;">Sat</span>
<span class="t" style="left:37.2px;top:1740.0px;font-size:11px;line-height:13px;font-weight:400;color:#cfcfcf;">27</span>
<span class="t" style="left:144.2px;top:1740.0px;font-size:11px;line-height:13px;font-weight:400;color:#cfcfcf;">28</span>
<span class="t" style="left:250.4px;top:1740.0px;font-size:11px;line-height:13px;font-weight:400;color:#cfcfcf;">29</span>
<span class="t" style="left:356.0px;top:1740.0px;font-size:11px;line-height:13px;font-weight:400;color:#cfcfcf;">30</span>
<span class="t" style="left:461.6px;top:1740.0px;font-size:11px;line-height:13px;font-weight:400;color:#cfcfcf;">31</span>
<span class="t" style="left:568.6px;top:1740.0px;font-size:11px;line-height:13px;font-weight:400;color:#222;">1</span>
<span class="t" style="left:674.0px;top:1740.0px;font-size:11px;line-height:13px;font-weight:400;color:#222;">2</span>
<div class="a" style="left:0;top:1757.500px;width:800px;height:21px;background:rgba(236,236,236,.92)"></div>
<div class="a" style="left:698.500px;top:1752.500px;width:82.500px;height:26px;background:#ebebeb"></div>
<span class="t" style="left:6.0px;top:1760.0px;font-size:10.5px;line-height:13px;font-weight:400;color:#2b2b2b;letter-spacing:0.23px;">© 2025 Microsoft</span>
<span class="t" style="left:102.5px;top:1760.0px;font-size:10.5px;line-height:13px;font-weight:400;color:#2b2b2b;letter-spacing:-0.05px;">Your Privacy Choices</span>
<span class="t" style="left:242.5px;top:1760.0px;font-size:10.5px;line-height:13px;font-weight:400;color:#2b2b2b;letter-spacing:-0.02px;">Consumer Health Privacy</span>
<span class="t" style="left:375.0px;top:1760.0px;font-size:10.5px;line-height:13px;font-weight:400;color:#2b2b2b;letter-spacing:-0.08px;">Privacy &amp; Cookies</span>
<span class="t" style="left:472.5px;top:1760.0px;font-size:10.5px;line-height:13px;font-weight:400;color:#2b2b2b;letter-spacing:0.08px;">Terms of use</span>
<span class="t" style="left:546.5px;top:1760.0px;font-size:10.5px;line-height:13px;font-weight:400;color:#2b2b2b;letter-spacing:0.09px;">Advertise</span>
<span class="t" style="left:604.0px;top:1760.0px;font-size:10.5px;line-height:13px;font-weight:400;color:#2b2b2b;">Data Providers</span>
<span class="t" style="left:723.5px;top:1759.0px;font-size:10.5px;line-height:13px;font-weight:400;color:#1a1a1a;-webkit-text-stroke:0.48px #1a1a1a;letter-spacing:0.05px;">Feedback</span>
<svg style="left:200px;top:1755px" width="600" height="23" viewBox="200 1755 600 23">
<rect x="205.500" y="1761.200" width="23.500" height="11" rx="5.500" fill="#fff" stroke="#0a66d8" stroke-width="1"/>
<path d="M218.500 1761.200h5a5.500 5.500 0 0 1 0 11h-8z" fill="#0a66d8"/>
<path d="M209.500 1766.800l2.200 2.200 3.800-4.400" fill="none" stroke="#0a66d8" stroke-width="1.200"/>
<path d="M221.200 1764.500l4 4.400M225.200 1764.500l-4 4.400" stroke="#fff" stroke-width="1.100"/>
<path d="M707.500 1763.600h8.500v5.600h-2.500l-1.200 1.600v-1.600h-4.800z" fill="#222"/>
</svg>
<div class="a" style="left:0;top:1770.500px;width:792px;height:7.500px;background:rgba(196,196,196,.72)"></div>
</body></html>
